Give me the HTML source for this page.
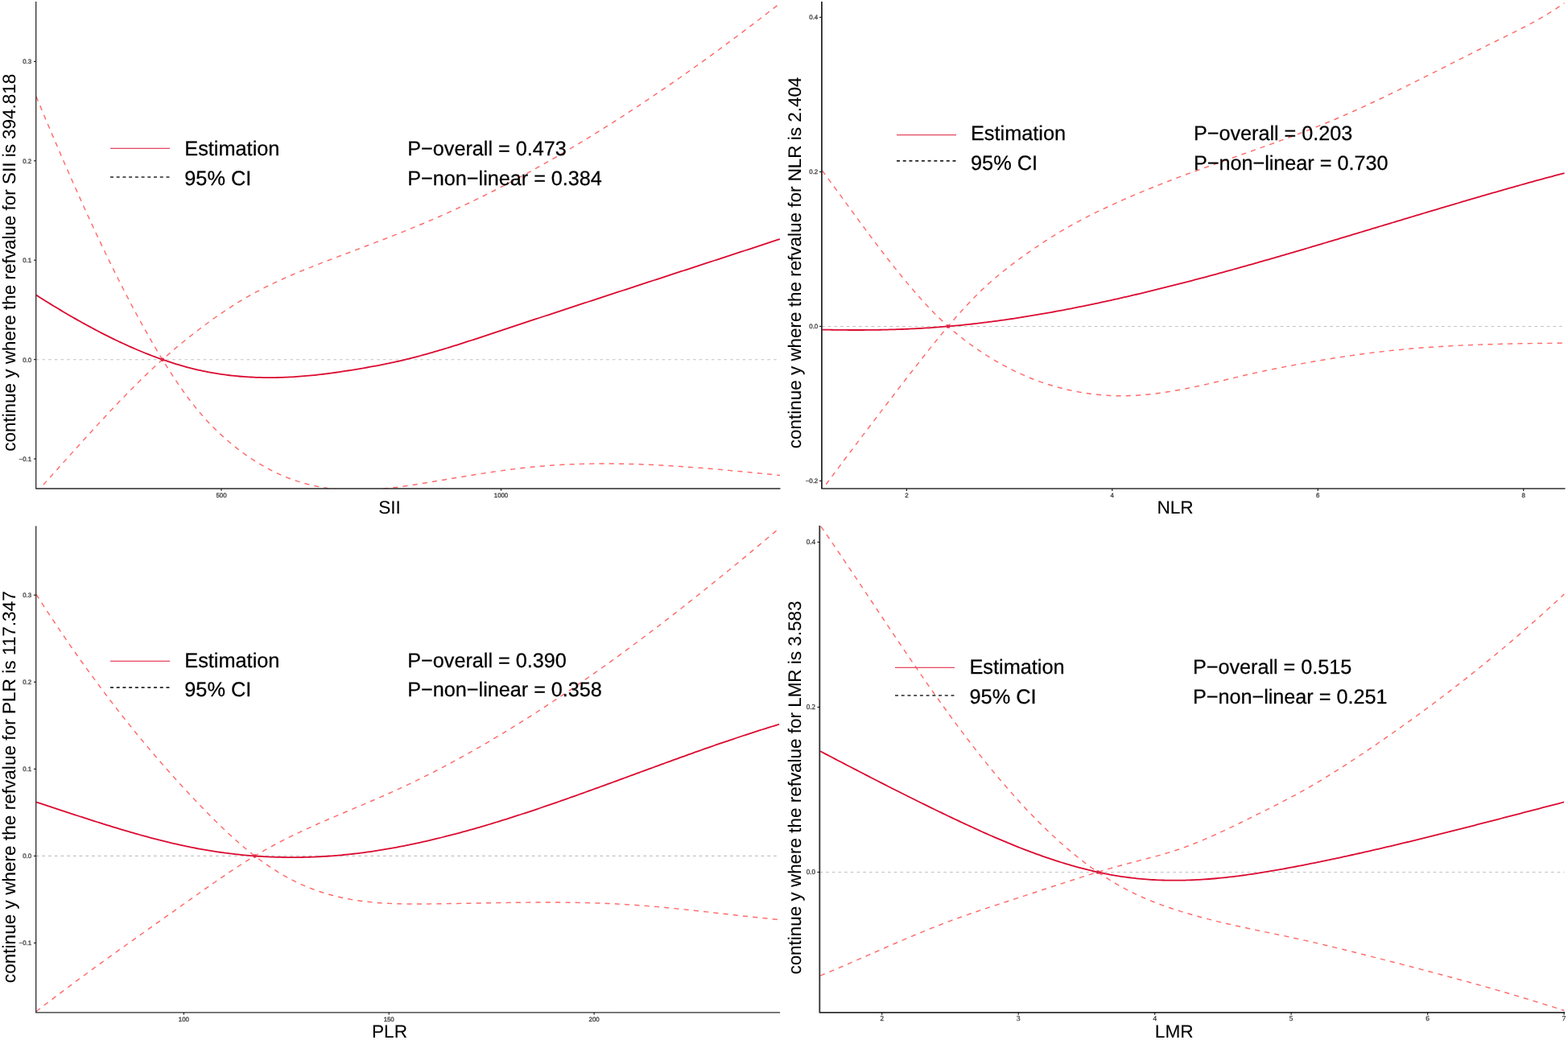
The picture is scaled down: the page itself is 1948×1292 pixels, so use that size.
<!DOCTYPE html>
<html lang="en"><head><meta charset="utf-8"><title>Restricted cubic spline plots: SII, NLR, PLR, LMR</title>
<style>
html,body{margin:0;padding:0;background:#fff;}
body{width:1948px;height:1292px;overflow:hidden;}
svg{display:block;}
text{font-family:'Liberation Sans', Arial, Helvetica, sans-serif;}
.big{font-size:25.3px;fill:#000;stroke:#000;stroke-width:0.25px;}
.pt{font-size:25.2px;}
.tks{font-size:9px;fill:#3c3c3c;}
.ttl{font-size:22.6px;fill:#000;stroke:#000;stroke-width:0.08px;}
.tk{font-size:7.85px;fill:#484848;stroke:#484848;stroke-width:0.35px;}
text{text-rendering:geometricPrecision;}
.ci{fill:none;stroke:#FF6B6B;stroke-width:1.45;stroke-dasharray:6.15 6.15;}
.est{fill:none;stroke:#DB0A30;stroke-width:1.8;stroke-linejoin:round;}
.zero{fill:none;stroke:#C2C2C2;stroke-width:1.1;stroke-dasharray:3.7 4.0;}
</style></head><body>
<svg xmlns="http://www.w3.org/2000/svg" width="1948" height="1292" viewBox="0 0 1948 1292">
<rect x="0" y="0" width="1948" height="1292" fill="#ffffff"/>
<g id="panel-SII">
<clipPath id="clip0"><rect x="44.7" y="-2" width="924.3" height="609"/></clipPath>
<line class="zero" x1="44.7" y1="446.7" x2="969" y2="446.7"/>
<g clip-path="url(#clip0)">
<path class="ci" d="M45 120.01 L48 127.21 L51 134.38 L54 141.53 L57 148.66 L60 155.76 L63 162.83 L66 169.88 L69 176.9 L72 183.9 L75 190.86 L78 197.79 L81 204.7 L84 211.57 L87 218.41 L90 225.21 L93 231.98 L96 238.72 L99 245.42 L102 252.08 L105 258.7 L108 265.29 L111 271.83 L114 278.34 L117 284.8 L120 291.22 L123 297.6 L126 303.93 L129 310.22 L132 316.46 L135 322.65 L138 328.8 L141 334.9 L144 340.95 L147 346.95 L150 352.9 L153 358.79 L156 364.64 L159 370.42 L162 376.16 L165 381.84 L168 387.46 L171 393.02 L174 398.53 L177 403.98 L180 409.36 L183 414.69 L186 419.95 L189 425.15 L192 430.29 L195 435.36 L198 440.37 L201 445.31 L204 450.19 L207 454.99 L210 459.73 L213 464.38 L216 468.97 L219 473.47 L222 477.89 L225 482.23 L228 486.47 L231 490.63 L234 494.7 L237 498.67 L240 502.55 L243 506.32 L246 510 L249 513.56 L252 517.02 L255 520.38 L258 523.64 L261 526.8 L264 529.87 L267 532.86 L270 535.77 L273 538.6 L276 541.37 L279 544.07 L282 546.71 L285 549.28 L288 551.79 L291 554.24 L294 556.62 L297 558.94 L300 561.21 L303 563.41 L306 565.55 L309 567.63 L312 569.65 L315 571.62 L318 573.52 L321 575.37 L324 577.17 L327 578.9 L330 580.58 L333 582.21 L336 583.78 L339 585.3 L342 586.76 L345 588.18 L348 589.54 L351 590.84 L354 592.1 L357 593.31 L360 594.46 L363 595.57 L366 596.63 L369 597.64 L372 598.6 L375 599.51 L378 600.38 L381 601.2 L384 601.98 L387 602.71 L390 603.39 L393 604.04 L396 604.64 L399 605.19 L402 605.71 L405 606.18 L408 606.61 L411 607 L414 607.35 L417 607.67 L420 607.94 L423 608.18 L426 608.38 L429 608.54 L432 608.67 L435 608.77 L438 608.83 L441 608.86 L444 608.86 L447 608.83 L450 608.77 L453 608.68 L456 608.57 L459 608.43 L462 608.26 L465 608.07 L468 607.86 L471 607.62 L474 607.37 L477 607.09 L480 606.79 L483 606.47 L486 606.13 L489 605.78 L492 605.41 L495 605.03 L498 604.63 L501 604.21 L504 603.79 L507 603.35 L510 602.9 L513 602.45 L516 601.98 L519 601.51 L522 601.03 L525 600.54 L528 600.05 L531 599.55 L534 599.05 L537 598.55 L540 598.04 L543 597.54 L546 597.03 L549 596.53 L552 596.02 L555 595.51 L558 595.01 L561 594.5 L564 594 L567 593.49 L570 592.99 L573 592.49 L576 591.99 L579 591.5 L582 591.01 L585 590.52 L588 590.03 L591 589.55 L594 589.08 L597 588.6 L600 588.14 L603 587.67 L606 587.21 L609 586.76 L612 586.32 L615 585.88 L618 585.45 L621 585.02 L624 584.6 L627 584.19 L630 583.79 L633 583.39 L636 583.01 L639 582.63 L642 582.26 L645 581.91 L648 581.56 L651 581.22 L654 580.89 L657 580.57 L660 580.27 L663 579.97 L666 579.69 L669 579.42 L672 579.16 L675 578.91 L678 578.67 L681 578.44 L684 578.23 L687 578.02 L690 577.83 L693 577.65 L696 577.47 L699 577.31 L702 577.16 L705 577.01 L708 576.88 L711 576.76 L714 576.64 L717 576.54 L720 576.44 L723 576.36 L726 576.28 L729 576.22 L732 576.16 L735 576.11 L738 576.07 L741 576.04 L744 576.02 L747 576 L750 576 L753 576 L756 576.01 L759 576.03 L762 576.06 L765 576.09 L768 576.14 L771 576.19 L774 576.24 L777 576.31 L780 576.38 L783 576.46 L786 576.54 L789 576.64 L792 576.74 L795 576.84 L798 576.96 L801 577.08 L804 577.2 L807 577.33 L810 577.47 L813 577.61 L816 577.76 L819 577.92 L822 578.08 L825 578.25 L828 578.42 L831 578.6 L834 578.78 L837 578.97 L840 579.16 L843 579.35 L846 579.56 L849 579.76 L852 579.97 L855 580.19 L858 580.41 L861 580.63 L864 580.86 L867 581.09 L870 581.33 L873 581.57 L876 581.81 L879 582.05 L882 582.3 L885 582.56 L888 582.81 L891 583.07 L894 583.33 L897 583.6 L900 583.86 L903 584.13 L906 584.4 L909 584.68 L912 584.95 L915 585.23 L918 585.51 L921 585.8 L924 586.08 L927 586.36 L930 586.65 L933 586.94 L936 587.23 L939 587.52 L942 587.81 L945 588.11 L948 588.4 L951 588.69 L954 588.99 L957 589.28 L960 589.58 L963 589.88 L966 590.17 L969 590.47"/>
<path class="ci" d="M53.9 602.2 L56.9 598.87 L59.9 595.53 L62.9 592.2 L65.9 588.86 L68.9 585.52 L71.9 582.17 L74.9 578.83 L77.9 575.49 L80.9 572.14 L83.9 568.8 L86.9 565.47 L89.9 562.13 L92.9 558.8 L95.9 555.48 L98.9 552.15 L101.91 548.84 L104.91 545.53 L107.91 542.23 L110.91 538.94 L113.91 535.66 L116.91 532.38 L119.91 529.12 L122.91 525.87 L125.91 522.63 L128.91 519.4 L131.91 516.19 L134.91 512.98 L137.91 509.8 L140.91 506.63 L143.91 503.47 L146.91 500.34 L149.91 497.22 L152.91 494.11 L155.91 491.03 L158.91 487.97 L161.91 484.92 L164.91 481.9 L167.91 478.9 L170.91 475.92 L173.91 472.97 L176.91 470.04 L179.91 467.13 L182.91 464.25 L185.91 461.4 L188.91 458.57 L191.92 455.77 L194.92 453 L197.92 450.25 L200.92 447.54 L203.92 444.86 L206.92 442.2 L209.92 439.58 L212.92 436.99 L215.92 434.42 L218.92 431.88 L221.92 429.38 L224.92 426.89 L227.92 424.44 L230.92 422.01 L233.92 419.61 L236.92 417.23 L239.92 414.88 L242.92 412.55 L245.92 410.25 L248.92 407.97 L251.92 405.71 L254.92 403.48 L257.92 401.27 L260.92 399.08 L263.92 396.92 L266.92 394.78 L269.92 392.67 L272.92 390.59 L275.92 388.54 L278.92 386.51 L281.92 384.51 L284.93 382.54 L287.93 380.61 L290.93 378.7 L293.93 376.82 L296.93 374.98 L299.93 373.16 L302.93 371.39 L305.93 369.64 L308.93 367.92 L311.93 366.24 L314.93 364.58 L317.93 362.96 L320.93 361.36 L323.93 359.79 L326.93 358.24 L329.93 356.72 L332.93 355.23 L335.93 353.76 L338.93 352.31 L341.93 350.89 L344.93 349.48 L347.93 348.1 L350.93 346.74 L353.93 345.39 L356.93 344.06 L359.93 342.76 L362.93 341.46 L365.93 340.19 L368.93 338.92 L371.93 337.67 L374.94 336.44 L377.94 335.21 L380.94 334 L383.94 332.8 L386.94 331.61 L389.94 330.43 L392.94 329.25 L395.94 328.08 L398.94 326.92 L401.94 325.76 L404.94 324.61 L407.94 323.46 L410.94 322.32 L413.94 321.18 L416.94 320.04 L419.94 318.9 L422.94 317.76 L425.94 316.62 L428.94 315.49 L431.94 314.35 L434.94 313.22 L437.94 312.09 L440.94 310.95 L443.94 309.82 L446.94 308.68 L449.94 307.55 L452.94 306.41 L455.94 305.27 L458.94 304.13 L461.94 302.98 L464.94 301.84 L467.95 300.69 L470.95 299.54 L473.95 298.38 L476.95 297.22 L479.95 296.06 L482.95 294.9 L485.95 293.73 L488.95 292.55 L491.95 291.37 L494.95 290.19 L497.95 289 L500.95 287.8 L503.95 286.6 L506.95 285.39 L509.95 284.17 L512.95 282.95 L515.95 281.72 L518.95 280.49 L521.95 279.24 L524.95 277.99 L527.95 276.73 L530.95 275.46 L533.95 274.18 L536.95 272.9 L539.95 271.6 L542.95 270.3 L545.95 268.98 L548.95 267.66 L551.95 266.32 L554.95 264.98 L557.96 263.63 L560.96 262.27 L563.96 260.9 L566.96 259.52 L569.96 258.13 L572.96 256.74 L575.96 255.33 L578.96 253.92 L581.96 252.49 L584.96 251.06 L587.96 249.62 L590.96 248.17 L593.96 246.71 L596.96 245.24 L599.96 243.77 L602.96 242.28 L605.96 240.79 L608.96 239.28 L611.96 237.77 L614.96 236.25 L617.96 234.72 L620.96 233.19 L623.96 231.64 L626.96 230.08 L629.96 228.52 L632.96 226.95 L635.96 225.37 L638.96 223.78 L641.96 222.19 L644.96 220.58 L647.96 218.97 L650.97 217.35 L653.97 215.72 L656.97 214.08 L659.97 212.43 L662.97 210.78 L665.97 209.11 L668.97 207.44 L671.97 205.76 L674.97 204.08 L677.97 202.38 L680.97 200.68 L683.97 198.97 L686.97 197.25 L689.97 195.52 L692.97 193.79 L695.97 192.04 L698.97 190.29 L701.97 188.54 L704.97 186.77 L707.97 185 L710.97 183.21 L713.97 181.43 L716.97 179.63 L719.97 177.82 L722.97 176.01 L725.97 174.19 L728.97 172.36 L731.97 170.53 L734.97 168.69 L737.97 166.84 L740.98 164.98 L743.98 163.11 L746.98 161.24 L749.98 159.36 L752.98 157.48 L755.98 155.58 L758.98 153.68 L761.98 151.77 L764.98 149.85 L767.98 147.93 L770.98 146 L773.98 144.06 L776.98 142.12 L779.98 140.17 L782.98 138.21 L785.98 136.24 L788.98 134.27 L791.98 132.29 L794.98 130.3 L797.98 128.31 L800.98 126.31 L803.98 124.3 L806.98 122.29 L809.98 120.27 L812.98 118.24 L815.98 116.2 L818.98 114.16 L821.98 112.11 L824.98 110.06 L827.98 108 L830.98 105.93 L833.99 103.86 L836.99 101.77 L839.99 99.69 L842.99 97.59 L845.99 95.49 L848.99 93.39 L851.99 91.27 L854.99 89.15 L857.99 87.03 L860.99 84.89 L863.99 82.76 L866.99 80.61 L869.99 78.46 L872.99 76.3 L875.99 74.14 L878.99 71.97 L881.99 69.79 L884.99 67.61 L887.99 65.42 L890.99 63.23 L893.99 61.03 L896.99 58.82 L899.99 56.61 L902.99 54.39 L905.99 52.17 L908.99 49.94 L911.99 47.7 L914.99 45.46 L917.99 43.21 L920.99 40.96 L924 38.7 L927 36.44 L930 34.17 L933 31.89 L936 29.61 L939 27.32 L942 25.03 L945 22.73 L948 20.43 L951 18.12 L954 15.8 L957 13.48 L960 11.16 L963 8.83 L966 6.49 L969 4.15"/>
<path class="est" d="M45 366.63 L48 368.53 L51 370.42 L54 372.29 L57 374.16 L60 376.02 L63 377.86 L66 379.7 L69 381.52 L72 383.33 L75 385.13 L78 386.91 L81 388.68 L84 390.44 L87 392.19 L90 393.93 L93 395.65 L96 397.35 L99 399.04 L102 400.72 L105 402.38 L108 404.03 L111 405.66 L114 407.28 L117 408.88 L120 410.47 L123 412.04 L126 413.59 L129 415.13 L132 416.65 L135 418.15 L138 419.64 L141 421.11 L144 422.56 L147 423.99 L150 425.4 L153 426.8 L156 428.17 L159 429.53 L162 430.87 L165 432.19 L168 433.49 L171 434.77 L174 436.03 L177 437.26 L180 438.48 L183 439.68 L186 440.85 L189 442.01 L192 443.14 L195 444.25 L198 445.34 L201 446.4 L204 447.44 L207 448.46 L210 449.46 L213 450.43 L216 451.38 L219 452.31 L222 453.21 L225 454.08 L228 454.94 L231 455.76 L234 456.57 L237 457.34 L240 458.09 L243 458.82 L246 459.52 L249 460.19 L252 460.83 L255 461.45 L258 462.05 L261 462.61 L264 463.15 L267 463.67 L270 464.16 L273 464.62 L276 465.07 L279 465.48 L282 465.87 L285 466.24 L288 466.59 L291 466.91 L294 467.2 L297 467.48 L300 467.73 L303 467.96 L306 468.17 L309 468.36 L312 468.52 L315 468.66 L318 468.79 L321 468.89 L324 468.97 L327 469.03 L330 469.07 L333 469.09 L336 469.09 L339 469.08 L342 469.04 L345 468.98 L348 468.91 L351 468.82 L354 468.71 L357 468.58 L360 468.44 L363 468.28 L366 468.1 L369 467.9 L372 467.69 L375 467.47 L378 467.22 L381 466.96 L384 466.69 L387 466.4 L390 466.1 L393 465.78 L396 465.45 L399 465.1 L402 464.74 L405 464.37 L408 463.99 L411 463.59 L414 463.18 L417 462.76 L420 462.33 L423 461.89 L426 461.43 L429 460.97 L432 460.5 L435 460.03 L438 459.54 L441 459.05 L444 458.55 L447 458.05 L450 457.53 L453 457.02 L456 456.5 L459 455.97 L462 455.43 L465 454.88 L468 454.33 L471 453.76 L474 453.18 L477 452.59 L480 451.99 L483 451.37 L486 450.74 L489 450.09 L492 449.43 L495 448.75 L498 448.06 L501 447.35 L504 446.62 L507 445.89 L510 445.14 L513 444.37 L516 443.6 L519 442.81 L522 442 L525 441.19 L528 440.37 L531 439.53 L534 438.68 L537 437.83 L540 436.96 L543 436.08 L546 435.2 L549 434.3 L552 433.4 L555 432.49 L558 431.57 L561 430.64 L564 429.71 L567 428.77 L570 427.82 L573 426.87 L576 425.91 L579 424.95 L582 423.98 L585 423.01 L588 422.03 L591 421.05 L594 420.07 L597 419.08 L600 418.09 L603 417.1 L606 416.11 L609 415.11 L612 414.12 L615 413.12 L618 412.12 L621 411.13 L624 410.13 L627 409.14 L630 408.14 L633 407.14 L636 406.15 L639 405.15 L642 404.16 L645 403.17 L648 402.17 L651 401.18 L654 400.19 L657 399.2 L660 398.21 L663 397.21 L666 396.22 L669 395.23 L672 394.24 L675 393.25 L678 392.26 L681 391.28 L684 390.29 L687 389.3 L690 388.31 L693 387.32 L696 386.34 L699 385.35 L702 384.36 L705 383.38 L708 382.39 L711 381.4 L714 380.42 L717 379.43 L720 378.45 L723 377.46 L726 376.48 L729 375.49 L732 374.51 L735 373.53 L738 372.54 L741 371.56 L744 370.57 L747 369.59 L750 368.61 L753 367.63 L756 366.64 L759 365.66 L762 364.68 L765 363.7 L768 362.72 L771 361.73 L774 360.75 L777 359.77 L780 358.79 L783 357.81 L786 356.83 L789 355.85 L792 354.87 L795 353.89 L798 352.91 L801 351.93 L804 350.95 L807 349.97 L810 348.99 L813 348 L816 347.02 L819 346.05 L822 345.07 L825 344.09 L828 343.11 L831 342.13 L834 341.15 L837 340.17 L840 339.19 L843 338.21 L846 337.23 L849 336.25 L852 335.27 L855 334.29 L858 333.31 L861 332.33 L864 331.35 L867 330.37 L870 329.39 L873 328.41 L876 327.43 L879 326.45 L882 325.47 L885 324.49 L888 323.51 L891 322.53 L894 321.55 L897 320.57 L900 319.58 L903 318.6 L906 317.62 L909 316.64 L912 315.66 L915 314.68 L918 313.7 L921 312.72 L924 311.73 L927 310.75 L930 309.77 L933 308.79 L936 307.8 L939 306.82 L942 305.84 L945 304.85 L948 303.87 L951 302.89 L954 301.9 L957 300.92 L960 299.93 L963 298.95 L966 297.97 L969 296.98"/>
</g>
<circle cx="201.85" cy="446.7" r="2.25" fill="#DD2448"/>
<line x1="44.7" y1="607" x2="969" y2="607" stroke="#2a2a2a" stroke-width="1.3" stroke-linecap="round"/>
<line x1="44.7" y1="2" x2="44.7" y2="607" stroke="#2a2a2a" stroke-width="1.3" stroke-linecap="butt"/>
<line x1="42.05" y1="76.4" x2="44.7" y2="76.4" stroke="#1a1a1a" stroke-width="1.2"/>
<text class="tk" x="39.1" y="79.25" text-anchor="end">0.3</text>
<line x1="42.05" y1="199.8" x2="44.7" y2="199.8" stroke="#1a1a1a" stroke-width="1.2"/>
<text class="tk" x="39.1" y="202.65" text-anchor="end">0.2</text>
<line x1="42.05" y1="323.2" x2="44.7" y2="323.2" stroke="#1a1a1a" stroke-width="1.2"/>
<text class="tk" x="39.1" y="326.05" text-anchor="end">0.1</text>
<line x1="42.05" y1="446.65" x2="44.7" y2="446.65" stroke="#1a1a1a" stroke-width="1.2"/>
<text class="tk" x="39.1" y="449.5" text-anchor="end">0.0</text>
<line x1="42.05" y1="570.05" x2="44.7" y2="570.05" stroke="#1a1a1a" stroke-width="1.2"/>
<text class="tk" x="39.1" y="572.9" text-anchor="end">−0.1</text>
<line x1="275" y1="607" x2="275" y2="609.65" stroke="#1a1a1a" stroke-width="1.2"/>
<text class="tk" x="275" y="617.6" text-anchor="middle">500</text>
<line x1="622.5" y1="607" x2="622.5" y2="609.65" stroke="#1a1a1a" stroke-width="1.2"/>
<text class="tk" x="622.5" y="617.6" text-anchor="middle">1000</text>
<line x1="137" y1="184.4" x2="211" y2="184.4" stroke="#E4465F" stroke-width="1.2"/>
<line x1="137" y1="220" x2="211" y2="220" stroke="#262626" stroke-width="1.7" stroke-dasharray="3.95 3.77"/>
<text class="big" x="229.3" y="192.5">Estimation</text>
<text class="big" x="229.3" y="230">95% CI</text>
<text class="big pt" x="506.3" y="192.5">P−overall = 0.473</text>
<text class="big pt" x="506.3" y="230">P−non−linear = 0.384</text>
<text class="ttl ylab" style="font-size:22.45px" id="ylab0" transform="translate(18.8 326.3) rotate(-90)" text-anchor="middle">continue y where the refvalue for SII is 394.818</text>
<text class="ttl" id="xlab0" x="484" y="638.3" text-anchor="middle">SII</text>
</g>
<g id="panel-NLR">
<clipPath id="clip1"><rect x="1020.9" y="-2" width="923.1" height="609.05"/></clipPath>
<line class="zero" x1="1020.9" y1="405.45" x2="1944" y2="405.45"/>
<g clip-path="url(#clip1)">
<path class="ci" d="M1021.5 211.96 L1024.5 216.02 L1027.51 220.09 L1030.51 224.17 L1033.51 228.26 L1036.52 232.35 L1039.52 236.45 L1042.52 240.56 L1045.53 244.67 L1048.53 248.77 L1051.53 252.88 L1054.54 256.99 L1057.54 261.09 L1060.54 265.19 L1063.55 269.28 L1066.55 273.37 L1069.55 277.44 L1072.56 281.51 L1075.56 285.56 L1078.56 289.6 L1081.57 293.62 L1084.57 297.62 L1087.57 301.61 L1090.57 305.58 L1093.58 309.52 L1096.58 313.45 L1099.58 317.35 L1102.59 321.22 L1105.59 325.07 L1108.59 328.88 L1111.6 332.67 L1114.6 336.42 L1117.6 340.15 L1120.61 343.83 L1123.61 347.48 L1126.61 351.1 L1129.62 354.67 L1132.62 358.2 L1135.62 361.69 L1138.63 365.14 L1141.63 368.54 L1144.63 371.89 L1147.64 375.2 L1150.64 378.45 L1153.64 381.66 L1156.65 384.81 L1159.65 387.91 L1162.65 390.95 L1165.66 393.93 L1168.66 396.86 L1171.66 399.73 L1174.67 402.53 L1177.67 405.27 L1180.67 407.94 L1183.68 410.56 L1186.68 413.11 L1189.68 415.6 L1192.69 418.03 L1195.69 420.41 L1198.69 422.73 L1201.7 425 L1204.7 427.22 L1207.7 429.39 L1210.71 431.52 L1213.71 433.6 L1216.71 435.63 L1219.71 437.63 L1222.72 439.58 L1225.72 441.5 L1228.72 443.38 L1231.73 445.22 L1234.73 447.02 L1237.73 448.79 L1240.74 450.51 L1243.74 452.21 L1246.74 453.86 L1249.75 455.47 L1252.75 457.05 L1255.75 458.59 L1258.76 460.09 L1261.76 461.55 L1264.76 462.98 L1267.77 464.36 L1270.77 465.71 L1273.77 467.02 L1276.78 468.29 L1279.78 469.52 L1282.78 470.71 L1285.79 471.87 L1288.79 472.99 L1291.79 474.07 L1294.8 475.12 L1297.8 476.13 L1300.8 477.11 L1303.81 478.06 L1306.81 478.97 L1309.81 479.84 L1312.82 480.69 L1315.82 481.5 L1318.82 482.28 L1321.83 483.03 L1324.83 483.75 L1327.83 484.44 L1330.84 485.09 L1333.84 485.72 L1336.84 486.32 L1339.85 486.89 L1342.85 487.42 L1345.85 487.93 L1348.86 488.4 L1351.86 488.84 L1354.86 489.25 L1357.86 489.63 L1360.87 489.98 L1363.87 490.3 L1366.87 490.59 L1369.88 490.84 L1372.88 491.06 L1375.88 491.26 L1378.89 491.42 L1381.89 491.54 L1384.89 491.64 L1387.9 491.7 L1390.9 491.74 L1393.9 491.74 L1396.91 491.71 L1399.91 491.66 L1402.91 491.57 L1405.92 491.46 L1408.92 491.32 L1411.92 491.16 L1414.93 490.97 L1417.93 490.75 L1420.93 490.51 L1423.94 490.24 L1426.94 489.95 L1429.94 489.63 L1432.95 489.3 L1435.95 488.94 L1438.95 488.56 L1441.96 488.15 L1444.96 487.73 L1447.96 487.29 L1450.97 486.83 L1453.97 486.35 L1456.97 485.85 L1459.98 485.33 L1462.98 484.8 L1465.98 484.25 L1468.99 483.68 L1471.99 483.1 L1474.99 482.51 L1478 481.9 L1481 481.28 L1484 480.65 L1487 480.01 L1490.01 479.36 L1493.01 478.7 L1496.01 478.03 L1499.02 477.35 L1502.02 476.66 L1505.02 475.97 L1508.03 475.28 L1511.03 474.57 L1514.03 473.87 L1517.04 473.16 L1520.04 472.45 L1523.04 471.74 L1526.05 471.02 L1529.05 470.31 L1532.05 469.6 L1535.06 468.88 L1538.06 468.18 L1541.06 467.47 L1544.07 466.77 L1547.07 466.07 L1550.07 465.38 L1553.08 464.69 L1556.08 464.01 L1559.08 463.34 L1562.09 462.67 L1565.09 462.02 L1568.09 461.37 L1571.1 460.73 L1574.1 460.1 L1577.1 459.48 L1580.11 458.87 L1583.11 458.26 L1586.11 457.66 L1589.12 457.06 L1592.12 456.47 L1595.12 455.89 L1598.13 455.31 L1601.13 454.74 L1604.13 454.18 L1607.14 453.61 L1610.14 453.06 L1613.14 452.51 L1616.14 451.96 L1619.15 451.41 L1622.15 450.87 L1625.15 450.34 L1628.16 449.81 L1631.16 449.28 L1634.16 448.76 L1637.17 448.25 L1640.17 447.74 L1643.17 447.23 L1646.18 446.73 L1649.18 446.24 L1652.18 445.75 L1655.19 445.27 L1658.19 444.79 L1661.19 444.32 L1664.2 443.85 L1667.2 443.39 L1670.2 442.94 L1673.21 442.49 L1676.21 442.05 L1679.21 441.62 L1682.22 441.19 L1685.22 440.77 L1688.22 440.35 L1691.23 439.94 L1694.23 439.54 L1697.23 439.15 L1700.24 438.76 L1703.24 438.38 L1706.24 438.01 L1709.25 437.65 L1712.25 437.29 L1715.25 436.94 L1718.26 436.6 L1721.26 436.27 L1724.26 435.94 L1727.27 435.62 L1730.27 435.31 L1733.27 435 L1736.28 434.71 L1739.28 434.42 L1742.28 434.13 L1745.29 433.85 L1748.29 433.58 L1751.29 433.32 L1754.29 433.06 L1757.3 432.81 L1760.3 432.57 L1763.3 432.33 L1766.31 432.09 L1769.31 431.87 L1772.31 431.65 L1775.32 431.43 L1778.32 431.23 L1781.32 431.02 L1784.33 430.83 L1787.33 430.63 L1790.33 430.45 L1793.34 430.27 L1796.34 430.09 L1799.34 429.92 L1802.35 429.76 L1805.35 429.6 L1808.35 429.44 L1811.36 429.29 L1814.36 429.15 L1817.36 429.01 L1820.37 428.87 L1823.37 428.74 L1826.37 428.61 L1829.38 428.49 L1832.38 428.37 L1835.38 428.26 L1838.39 428.15 L1841.39 428.04 L1844.39 427.94 L1847.4 427.84 L1850.4 427.75 L1853.4 427.66 L1856.41 427.57 L1859.41 427.49 L1862.41 427.41 L1865.42 427.34 L1868.42 427.26 L1871.42 427.19 L1874.43 427.13 L1877.43 427.06 L1880.43 427 L1883.43 426.94 L1886.44 426.89 L1889.44 426.84 L1892.44 426.79 L1895.45 426.74 L1898.45 426.7 L1901.45 426.65 L1904.46 426.61 L1907.46 426.57 L1910.46 426.54 L1913.47 426.51 L1916.47 426.47 L1919.47 426.44 L1922.48 426.42 L1925.48 426.39 L1928.48 426.36 L1931.49 426.34 L1934.49 426.32 L1937.49 426.3 L1940.5 426.28 L1943.5 426.26"/>
<path class="ci" d="M1026.2 601.77 L1029.21 597.72 L1032.22 593.68 L1035.22 589.65 L1038.23 585.62 L1041.24 581.6 L1044.25 577.58 L1047.25 573.57 L1050.26 569.56 L1053.27 565.56 L1056.28 561.56 L1059.28 557.57 L1062.29 553.59 L1065.3 549.61 L1068.31 545.63 L1071.31 541.66 L1074.32 537.7 L1077.33 533.74 L1080.34 529.78 L1083.34 525.83 L1086.35 521.89 L1089.36 517.95 L1092.37 514.01 L1095.37 510.08 L1098.38 506.15 L1101.39 502.23 L1104.4 498.31 L1107.4 494.39 L1110.41 490.48 L1113.42 486.58 L1116.43 482.67 L1119.43 478.77 L1122.44 474.88 L1125.45 470.99 L1128.46 467.1 L1131.46 463.22 L1134.47 459.35 L1137.48 455.49 L1140.49 451.64 L1143.49 447.8 L1146.5 443.98 L1149.51 440.17 L1152.52 436.39 L1155.52 432.62 L1158.53 428.88 L1161.54 425.16 L1164.55 421.46 L1167.55 417.8 L1170.56 414.16 L1173.57 410.55 L1176.58 406.98 L1179.58 403.44 L1182.59 399.93 L1185.6 396.47 L1188.61 393.04 L1191.61 389.65 L1194.62 386.31 L1197.63 383.02 L1200.64 379.77 L1203.64 376.56 L1206.65 373.41 L1209.66 370.31 L1212.67 367.27 L1215.68 364.28 L1218.68 361.34 L1221.69 358.47 L1224.7 355.65 L1227.71 352.9 L1230.71 350.21 L1233.72 347.57 L1236.73 344.98 L1239.74 342.45 L1242.74 339.96 L1245.75 337.51 L1248.76 335.11 L1251.77 332.75 L1254.77 330.42 L1257.78 328.13 L1260.79 325.86 L1263.8 323.63 L1266.8 321.42 L1269.81 319.23 L1272.82 317.06 L1275.83 314.92 L1278.83 312.8 L1281.84 310.71 L1284.85 308.63 L1287.86 306.59 L1290.86 304.56 L1293.87 302.56 L1296.88 300.58 L1299.89 298.63 L1302.89 296.71 L1305.9 294.8 L1308.91 292.93 L1311.92 291.07 L1314.92 289.25 L1317.93 287.44 L1320.94 285.67 L1323.95 283.92 L1326.95 282.19 L1329.96 280.49 L1332.97 278.81 L1335.98 277.16 L1338.98 275.53 L1341.99 273.92 L1345 272.34 L1348.01 270.77 L1351.01 269.22 L1354.02 267.7 L1357.03 266.19 L1360.04 264.69 L1363.04 263.22 L1366.05 261.76 L1369.06 260.31 L1372.07 258.88 L1375.07 257.47 L1378.08 256.06 L1381.09 254.67 L1384.1 253.3 L1387.1 251.93 L1390.11 250.58 L1393.12 249.23 L1396.13 247.9 L1399.14 246.58 L1402.14 245.28 L1405.15 243.98 L1408.16 242.69 L1411.17 241.41 L1414.17 240.15 L1417.18 238.89 L1420.19 237.64 L1423.2 236.41 L1426.2 235.18 L1429.21 233.96 L1432.22 232.75 L1435.23 231.54 L1438.23 230.35 L1441.24 229.16 L1444.25 227.98 L1447.26 226.81 L1450.26 225.65 L1453.27 224.49 L1456.28 223.34 L1459.29 222.19 L1462.29 221.05 L1465.3 219.92 L1468.31 218.79 L1471.32 217.67 L1474.32 216.55 L1477.33 215.44 L1480.34 214.33 L1483.35 213.23 L1486.35 212.13 L1489.36 211.04 L1492.37 209.95 L1495.38 208.86 L1498.38 207.78 L1501.39 206.7 L1504.4 205.62 L1507.41 204.54 L1510.41 203.47 L1513.42 202.4 L1516.43 201.33 L1519.44 200.26 L1522.44 199.19 L1525.45 198.12 L1528.46 197.06 L1531.47 195.99 L1534.47 194.93 L1537.48 193.86 L1540.49 192.8 L1543.5 191.73 L1546.5 190.67 L1549.51 189.6 L1552.52 188.53 L1555.53 187.46 L1558.53 186.39 L1561.54 185.32 L1564.55 184.24 L1567.56 183.17 L1570.56 182.08 L1573.57 181 L1576.58 179.91 L1579.59 178.82 L1582.6 177.73 L1585.6 176.63 L1588.61 175.53 L1591.62 174.43 L1594.63 173.32 L1597.63 172.2 L1600.64 171.08 L1603.65 169.95 L1606.66 168.82 L1609.66 167.68 L1612.67 166.54 L1615.68 165.39 L1618.69 164.23 L1621.69 163.07 L1624.7 161.9 L1627.71 160.72 L1630.72 159.54 L1633.72 158.35 L1636.73 157.14 L1639.74 155.94 L1642.75 154.72 L1645.75 153.49 L1648.76 152.26 L1651.77 151.01 L1654.78 149.76 L1657.78 148.49 L1660.79 147.22 L1663.8 145.93 L1666.81 144.64 L1669.81 143.33 L1672.82 142.02 L1675.83 140.7 L1678.84 139.36 L1681.84 138.02 L1684.85 136.67 L1687.86 135.31 L1690.87 133.95 L1693.87 132.57 L1696.88 131.19 L1699.89 129.8 L1702.9 128.4 L1705.9 126.99 L1708.91 125.58 L1711.92 124.16 L1714.93 122.73 L1717.93 121.3 L1720.94 119.86 L1723.95 118.42 L1726.96 116.97 L1729.96 115.51 L1732.97 114.05 L1735.98 112.58 L1738.99 111.11 L1741.99 109.64 L1745 108.16 L1748.01 106.67 L1751.02 105.18 L1754.02 103.69 L1757.03 102.19 L1760.04 100.7 L1763.05 99.19 L1766.06 97.69 L1769.06 96.18 L1772.07 94.67 L1775.08 93.16 L1778.09 91.64 L1781.09 90.12 L1784.1 88.61 L1787.11 87.09 L1790.12 85.56 L1793.12 84.04 L1796.13 82.52 L1799.14 81 L1802.15 79.47 L1805.15 77.95 L1808.16 76.42 L1811.17 74.9 L1814.18 73.38 L1817.18 71.86 L1820.19 70.34 L1823.2 68.82 L1826.21 67.3 L1829.21 65.78 L1832.22 64.26 L1835.23 62.75 L1838.24 61.24 L1841.24 59.73 L1844.25 58.23 L1847.26 56.72 L1850.27 55.22 L1853.27 53.73 L1856.28 52.23 L1859.29 50.75 L1862.3 49.26 L1865.3 47.78 L1868.31 46.3 L1871.32 44.82 L1874.33 43.33 L1877.33 41.84 L1880.34 40.35 L1883.35 38.84 L1886.36 37.33 L1889.36 35.8 L1892.37 34.26 L1895.38 32.69 L1898.39 31.12 L1901.39 29.52 L1904.4 27.89 L1907.41 26.24 L1910.42 24.57 L1913.42 22.86 L1916.43 21.13 L1919.44 19.36 L1922.45 17.56 L1925.45 15.71 L1928.46 13.83 L1931.47 11.91 L1934.48 9.95 L1937.48 7.94 L1940.49 5.88 L1943.5 3.78"/>
<path class="est" d="M1021.5 409.55 L1024.5 409.61 L1027.51 409.66 L1030.51 409.72 L1033.51 409.77 L1036.52 409.81 L1039.52 409.85 L1042.52 409.89 L1045.53 409.92 L1048.53 409.95 L1051.53 409.97 L1054.54 409.99 L1057.54 410 L1060.54 410.01 L1063.55 410.01 L1066.55 410.01 L1069.55 410 L1072.56 409.99 L1075.56 409.97 L1078.56 409.95 L1081.57 409.92 L1084.57 409.88 L1087.57 409.84 L1090.57 409.8 L1093.58 409.74 L1096.58 409.68 L1099.58 409.62 L1102.59 409.55 L1105.59 409.47 L1108.59 409.39 L1111.6 409.29 L1114.6 409.2 L1117.6 409.09 L1120.61 408.98 L1123.61 408.86 L1126.61 408.74 L1129.62 408.6 L1132.62 408.46 L1135.62 408.32 L1138.63 408.16 L1141.63 408 L1144.63 407.83 L1147.64 407.65 L1150.64 407.47 L1153.64 407.28 L1156.65 407.08 L1159.65 406.87 L1162.65 406.66 L1165.66 406.43 L1168.66 406.2 L1171.66 405.97 L1174.67 405.72 L1177.67 405.47 L1180.67 405.2 L1183.68 404.93 L1186.68 404.66 L1189.68 404.37 L1192.69 404.08 L1195.69 403.78 L1198.69 403.47 L1201.7 403.15 L1204.7 402.83 L1207.7 402.5 L1210.71 402.16 L1213.71 401.81 L1216.71 401.46 L1219.71 401.1 L1222.72 400.73 L1225.72 400.36 L1228.72 399.98 L1231.73 399.59 L1234.73 399.2 L1237.73 398.79 L1240.74 398.38 L1243.74 397.97 L1246.74 397.55 L1249.75 397.12 L1252.75 396.68 L1255.75 396.24 L1258.76 395.79 L1261.76 395.34 L1264.76 394.88 L1267.77 394.41 L1270.77 393.94 L1273.77 393.46 L1276.78 392.97 L1279.78 392.48 L1282.78 391.98 L1285.79 391.48 L1288.79 390.97 L1291.79 390.46 L1294.8 389.94 L1297.8 389.41 L1300.8 388.88 L1303.81 388.34 L1306.81 387.8 L1309.81 387.25 L1312.82 386.7 L1315.82 386.14 L1318.82 385.58 L1321.83 385.01 L1324.83 384.43 L1327.83 383.85 L1330.84 383.27 L1333.84 382.68 L1336.84 382.09 L1339.85 381.49 L1342.85 380.88 L1345.85 380.28 L1348.86 379.66 L1351.86 379.04 L1354.86 378.42 L1357.86 377.79 L1360.87 377.16 L1363.87 376.52 L1366.87 375.88 L1369.88 375.24 L1372.88 374.59 L1375.88 373.93 L1378.89 373.27 L1381.89 372.61 L1384.89 371.94 L1387.9 371.27 L1390.9 370.59 L1393.9 369.91 L1396.91 369.23 L1399.91 368.54 L1402.91 367.85 L1405.92 367.15 L1408.92 366.45 L1411.92 365.75 L1414.93 365.04 L1417.93 364.32 L1420.93 363.61 L1423.94 362.89 L1426.94 362.16 L1429.94 361.44 L1432.95 360.7 L1435.95 359.97 L1438.95 359.23 L1441.96 358.49 L1444.96 357.74 L1447.96 356.99 L1450.97 356.24 L1453.97 355.49 L1456.97 354.73 L1459.98 353.96 L1462.98 353.2 L1465.98 352.43 L1468.99 351.65 L1471.99 350.88 L1474.99 350.1 L1478 349.32 L1481 348.53 L1484 347.74 L1487 346.95 L1490.01 346.16 L1493.01 345.36 L1496.01 344.56 L1499.02 343.76 L1502.02 342.95 L1505.02 342.15 L1508.03 341.33 L1511.03 340.52 L1514.03 339.7 L1517.04 338.88 L1520.04 338.06 L1523.04 337.24 L1526.05 336.41 L1529.05 335.58 L1532.05 334.75 L1535.06 333.92 L1538.06 333.08 L1541.06 332.24 L1544.07 331.4 L1547.07 330.56 L1550.07 329.72 L1553.08 328.87 L1556.08 328.02 L1559.08 327.17 L1562.09 326.31 L1565.09 325.46 L1568.09 324.6 L1571.1 323.74 L1574.1 322.88 L1577.1 322.02 L1580.11 321.15 L1583.11 320.29 L1586.11 319.42 L1589.12 318.55 L1592.12 317.68 L1595.12 316.8 L1598.13 315.93 L1601.13 315.05 L1604.13 314.17 L1607.14 313.3 L1610.14 312.42 L1613.14 311.53 L1616.14 310.65 L1619.15 309.77 L1622.15 308.88 L1625.15 307.99 L1628.16 307.1 L1631.16 306.22 L1634.16 305.32 L1637.17 304.43 L1640.17 303.54 L1643.17 302.65 L1646.18 301.75 L1649.18 300.86 L1652.18 299.96 L1655.19 299.06 L1658.19 298.17 L1661.19 297.27 L1664.2 296.37 L1667.2 295.47 L1670.2 294.57 L1673.21 293.67 L1676.21 292.77 L1679.21 291.86 L1682.22 290.96 L1685.22 290.06 L1688.22 289.15 L1691.23 288.25 L1694.23 287.35 L1697.23 286.44 L1700.24 285.54 L1703.24 284.63 L1706.24 283.73 L1709.25 282.82 L1712.25 281.92 L1715.25 281.01 L1718.26 280.11 L1721.26 279.2 L1724.26 278.3 L1727.27 277.39 L1730.27 276.49 L1733.27 275.58 L1736.28 274.68 L1739.28 273.77 L1742.28 272.87 L1745.29 271.96 L1748.29 271.06 L1751.29 270.16 L1754.29 269.26 L1757.3 268.35 L1760.3 267.45 L1763.3 266.55 L1766.31 265.65 L1769.31 264.75 L1772.31 263.85 L1775.32 262.96 L1778.32 262.06 L1781.32 261.16 L1784.33 260.27 L1787.33 259.37 L1790.33 258.48 L1793.34 257.58 L1796.34 256.69 L1799.34 255.8 L1802.35 254.91 L1805.35 254.02 L1808.35 253.13 L1811.36 252.25 L1814.36 251.36 L1817.36 250.48 L1820.37 249.6 L1823.37 248.72 L1826.37 247.84 L1829.38 246.96 L1832.38 246.08 L1835.38 245.2 L1838.39 244.33 L1841.39 243.46 L1844.39 242.59 L1847.4 241.72 L1850.4 240.85 L1853.4 239.99 L1856.41 239.12 L1859.41 238.26 L1862.41 237.4 L1865.42 236.54 L1868.42 235.68 L1871.42 234.83 L1874.43 233.98 L1877.43 233.13 L1880.43 232.28 L1883.43 231.43 L1886.44 230.59 L1889.44 229.75 L1892.44 228.91 L1895.45 228.07 L1898.45 227.23 L1901.45 226.4 L1904.46 225.57 L1907.46 224.74 L1910.46 223.92 L1913.47 223.1 L1916.47 222.28 L1919.47 221.46 L1922.48 220.64 L1925.48 219.83 L1928.48 219.02 L1931.49 218.21 L1934.49 217.41 L1937.49 216.61 L1940.5 215.81 L1943.5 215.01"/>
</g>
<circle cx="1177.87" cy="405.45" r="2.25" fill="#DD2448"/>
<line x1="1020.9" y1="607.05" x2="1944" y2="607.05" stroke="#303030" stroke-width="1.5" stroke-linecap="round"/>
<line x1="1020.9" y1="2" x2="1020.9" y2="607.05" stroke="#1c1c1c" stroke-width="1.7" stroke-linecap="butt"/>
<line x1="1018.05" y1="21.5" x2="1020.9" y2="21.5" stroke="#1a1a1a" stroke-width="1.2"/>
<text class="tk" x="1016.2" y="24.35" text-anchor="end">0.4</text>
<line x1="1018.05" y1="213.5" x2="1020.9" y2="213.5" stroke="#1a1a1a" stroke-width="1.2"/>
<text class="tk" x="1016.2" y="216.35" text-anchor="end">0.2</text>
<line x1="1018.05" y1="405.45" x2="1020.9" y2="405.45" stroke="#1a1a1a" stroke-width="1.2"/>
<text class="tk" x="1016.2" y="408.3" text-anchor="end">0.0</text>
<line x1="1018.05" y1="597.4" x2="1020.9" y2="597.4" stroke="#1a1a1a" stroke-width="1.2"/>
<text class="tk" x="1016.2" y="600.25" text-anchor="end">−0.2</text>
<line x1="1126.4" y1="607.05" x2="1126.4" y2="609.9" stroke="#1a1a1a" stroke-width="1.2"/>
<text class="tk" x="1126.4" y="617.65" text-anchor="middle">2</text>
<line x1="1381.75" y1="607.05" x2="1381.75" y2="609.9" stroke="#1a1a1a" stroke-width="1.2"/>
<text class="tk" x="1381.75" y="617.65" text-anchor="middle">4</text>
<line x1="1637.25" y1="607.05" x2="1637.25" y2="609.9" stroke="#1a1a1a" stroke-width="1.2"/>
<text class="tk" x="1637.25" y="617.65" text-anchor="middle">6</text>
<line x1="1892.75" y1="607.05" x2="1892.75" y2="609.9" stroke="#1a1a1a" stroke-width="1.2"/>
<text class="tk" x="1892.75" y="617.65" text-anchor="middle">8</text>
<line x1="1114" y1="167.55" x2="1188" y2="167.55" stroke="#E4465F" stroke-width="1.2"/>
<line x1="1114" y1="199.8" x2="1188" y2="199.8" stroke="#262626" stroke-width="1.7" stroke-dasharray="3.95 3.77"/>
<text class="big" x="1206" y="173.75">Estimation</text>
<text class="big" x="1206" y="211.25">95% CI</text>
<text class="big pt" x="1482.9" y="173.75">P−overall = 0.203</text>
<text class="big pt" x="1482.9" y="211.25">P−non−linear = 0.730</text>
<text class="ttl ylab" style="font-size:22.45px" id="ylab1" transform="translate(994.9 326.4) rotate(-90)" text-anchor="middle">continue y where the refvalue for NLR is 2.404</text>
<text class="ttl" id="xlab1" x="1460.1" y="638.3" text-anchor="middle">NLR</text>
</g>
<g id="panel-PLR">
<clipPath id="clip2"><rect x="44.7" y="649.5" width="923.8" height="608.4"/></clipPath>
<line class="zero" x1="44.7" y1="1063.4" x2="968.5" y2="1063.4"/>
<g clip-path="url(#clip2)">
<path class="ci" d="M45 738.5 L48.01 743.18 L51.01 747.83 L54.02 752.45 L57.03 757.05 L60.04 761.62 L63.04 766.17 L66.05 770.69 L69.06 775.19 L72.07 779.65 L75.07 784.1 L78.08 788.52 L81.09 792.91 L84.1 797.28 L87.1 801.62 L90.11 805.94 L93.12 810.23 L96.12 814.5 L99.13 818.74 L102.14 822.96 L105.15 827.15 L108.15 831.32 L111.16 835.47 L114.17 839.59 L117.18 843.68 L120.18 847.76 L123.19 851.8 L126.2 855.83 L129.21 859.83 L132.21 863.81 L135.22 867.76 L138.23 871.69 L141.23 875.6 L144.24 879.48 L147.25 883.34 L150.26 887.18 L153.26 890.99 L156.27 894.78 L159.28 898.55 L162.29 902.3 L165.29 906.02 L168.3 909.72 L171.31 913.4 L174.32 917.05 L177.32 920.69 L180.33 924.3 L183.34 927.89 L186.34 931.45 L189.35 935 L192.36 938.52 L195.37 942.02 L198.37 945.5 L201.38 948.96 L204.39 952.4 L207.4 955.81 L210.4 959.21 L213.41 962.58 L216.42 965.93 L219.43 969.26 L222.43 972.57 L225.44 975.86 L228.45 979.13 L231.45 982.38 L234.46 985.61 L237.47 988.81 L240.48 992 L243.48 995.17 L246.49 998.31 L249.5 1001.44 L252.51 1004.55 L255.51 1007.63 L258.52 1010.69 L261.53 1013.73 L264.54 1016.75 L267.54 1019.73 L270.55 1022.69 L273.56 1025.62 L276.56 1028.52 L279.57 1031.38 L282.58 1034.21 L285.59 1037.01 L288.59 1039.77 L291.6 1042.49 L294.61 1045.17 L297.62 1047.81 L300.62 1050.41 L303.63 1052.96 L306.64 1055.47 L309.64 1057.93 L312.65 1060.35 L315.66 1062.71 L318.67 1065.02 L321.67 1067.28 L324.68 1069.49 L327.69 1071.65 L330.7 1073.76 L333.7 1075.82 L336.71 1077.83 L339.72 1079.78 L342.73 1081.69 L345.73 1083.54 L348.74 1085.35 L351.75 1087.1 L354.75 1088.81 L357.76 1090.46 L360.77 1092.06 L363.78 1093.62 L366.78 1095.12 L369.79 1096.58 L372.8 1097.99 L375.81 1099.34 L378.81 1100.65 L381.82 1101.91 L384.83 1103.12 L387.84 1104.29 L390.84 1105.41 L393.85 1106.49 L396.86 1107.52 L399.86 1108.51 L402.87 1109.46 L405.88 1110.36 L408.89 1111.23 L411.89 1112.06 L414.9 1112.84 L417.91 1113.6 L420.92 1114.31 L423.92 1114.99 L426.93 1115.63 L429.94 1116.24 L432.95 1116.82 L435.95 1117.36 L438.96 1117.87 L441.97 1118.35 L444.97 1118.81 L447.98 1119.23 L450.99 1119.62 L454 1119.99 L457 1120.33 L460.01 1120.65 L463.02 1120.94 L466.03 1121.21 L469.03 1121.46 L472.04 1121.68 L475.05 1121.88 L478.06 1122.07 L481.06 1122.23 L484.07 1122.38 L487.08 1122.5 L490.08 1122.62 L493.09 1122.71 L496.1 1122.79 L499.11 1122.86 L502.11 1122.91 L505.12 1122.96 L508.13 1122.99 L511.14 1123.01 L514.14 1123.02 L517.15 1123.02 L520.16 1123.01 L523.17 1123 L526.17 1122.98 L529.18 1122.95 L532.19 1122.93 L535.19 1122.89 L538.2 1122.86 L541.21 1122.82 L544.22 1122.78 L547.22 1122.74 L550.23 1122.7 L553.24 1122.66 L556.25 1122.61 L559.25 1122.57 L562.26 1122.52 L565.27 1122.47 L568.28 1122.42 L571.28 1122.37 L574.29 1122.32 L577.3 1122.27 L580.3 1122.21 L583.31 1122.16 L586.32 1122.11 L589.33 1122.06 L592.33 1122 L595.34 1121.95 L598.35 1121.9 L601.36 1121.85 L604.36 1121.8 L607.37 1121.74 L610.38 1121.69 L613.39 1121.65 L616.39 1121.6 L619.4 1121.55 L622.41 1121.5 L625.41 1121.46 L628.42 1121.41 L631.43 1121.37 L634.44 1121.33 L637.44 1121.29 L640.45 1121.26 L643.46 1121.22 L646.47 1121.19 L649.47 1121.16 L652.48 1121.13 L655.49 1121.11 L658.5 1121.08 L661.5 1121.06 L664.51 1121.05 L667.52 1121.03 L670.52 1121.02 L673.53 1121.01 L676.54 1121.01 L679.55 1121.01 L682.55 1121.01 L685.56 1121.02 L688.57 1121.03 L691.58 1121.04 L694.58 1121.06 L697.59 1121.08 L700.6 1121.11 L703.61 1121.14 L706.61 1121.17 L709.62 1121.21 L712.63 1121.25 L715.63 1121.3 L718.64 1121.36 L721.65 1121.42 L724.66 1121.48 L727.66 1121.55 L730.67 1121.63 L733.68 1121.71 L736.69 1121.79 L739.69 1121.88 L742.7 1121.98 L745.71 1122.09 L748.71 1122.2 L751.72 1122.31 L754.73 1122.44 L757.74 1122.57 L760.74 1122.7 L763.75 1122.84 L766.76 1122.99 L769.77 1123.15 L772.77 1123.31 L775.78 1123.48 L778.79 1123.66 L781.8 1123.85 L784.8 1124.04 L787.81 1124.24 L790.82 1124.45 L793.82 1124.66 L796.83 1124.89 L799.84 1125.12 L802.85 1125.35 L805.85 1125.6 L808.86 1125.85 L811.87 1126.1 L814.88 1126.37 L817.88 1126.63 L820.89 1126.91 L823.9 1127.19 L826.91 1127.47 L829.91 1127.76 L832.92 1128.05 L835.93 1128.35 L838.93 1128.65 L841.94 1128.96 L844.95 1129.27 L847.96 1129.58 L850.96 1129.89 L853.97 1130.21 L856.98 1130.54 L859.99 1130.86 L862.99 1131.19 L866 1131.52 L869.01 1131.85 L872.02 1132.18 L875.02 1132.52 L878.03 1132.85 L881.04 1133.19 L884.04 1133.53 L887.05 1133.87 L890.06 1134.21 L893.07 1134.55 L896.07 1134.89 L899.08 1135.23 L902.09 1135.57 L905.1 1135.9 L908.1 1136.24 L911.11 1136.58 L914.12 1136.91 L917.13 1137.25 L920.13 1137.58 L923.14 1137.91 L926.15 1138.24 L929.15 1138.56 L932.16 1138.89 L935.17 1139.21 L938.18 1139.52 L941.18 1139.84 L944.19 1140.15 L947.2 1140.45 L950.21 1140.76 L953.21 1141.05 L956.22 1141.35 L959.23 1141.64 L962.24 1141.92 L965.24 1142.2 L968.25 1142.48"/>
<path class="ci" d="M45 1256.55 L48.01 1254.22 L51.01 1251.9 L54.02 1249.58 L57.03 1247.28 L60.04 1244.98 L63.04 1242.68 L66.05 1240.4 L69.06 1238.12 L72.07 1235.84 L75.07 1233.58 L78.08 1231.32 L81.09 1229.06 L84.1 1226.81 L87.1 1224.57 L90.11 1222.33 L93.12 1220.1 L96.12 1217.88 L99.13 1215.66 L102.14 1213.44 L105.15 1211.23 L108.15 1209.02 L111.16 1206.82 L114.17 1204.63 L117.18 1202.43 L120.18 1200.24 L123.19 1198.06 L126.2 1195.88 L129.21 1193.7 L132.21 1191.53 L135.22 1189.36 L138.23 1187.19 L141.23 1185.03 L144.24 1182.87 L147.25 1180.71 L150.26 1178.56 L153.26 1176.41 L156.27 1174.26 L159.28 1172.11 L162.29 1169.96 L165.29 1167.82 L168.3 1165.68 L171.31 1163.54 L174.32 1161.4 L177.32 1159.26 L180.33 1157.13 L183.34 1154.99 L186.34 1152.86 L189.35 1150.72 L192.36 1148.59 L195.37 1146.46 L198.37 1144.33 L201.38 1142.19 L204.39 1140.06 L207.4 1137.93 L210.4 1135.8 L213.41 1133.67 L216.42 1131.54 L219.43 1129.41 L222.43 1127.28 L225.44 1125.15 L228.45 1123.03 L231.45 1120.9 L234.46 1118.77 L237.47 1116.65 L240.48 1114.53 L243.48 1112.4 L246.49 1110.28 L249.5 1108.17 L252.51 1106.05 L255.51 1103.93 L258.52 1101.82 L261.53 1099.72 L264.54 1097.62 L267.54 1095.53 L270.55 1093.44 L273.56 1091.37 L276.56 1089.3 L279.57 1087.25 L282.58 1085.21 L285.59 1083.18 L288.59 1081.17 L291.6 1079.18 L294.61 1077.2 L297.62 1075.24 L300.62 1073.3 L303.63 1071.38 L306.64 1069.48 L309.64 1067.61 L312.65 1065.76 L315.66 1063.94 L318.67 1062.14 L321.67 1060.37 L324.68 1058.62 L327.69 1056.9 L330.7 1055.2 L333.7 1053.53 L336.71 1051.88 L339.72 1050.25 L342.73 1048.65 L345.73 1047.06 L348.74 1045.49 L351.75 1043.95 L354.75 1042.42 L357.76 1040.91 L360.77 1039.42 L363.78 1037.95 L366.78 1036.49 L369.79 1035.05 L372.8 1033.62 L375.81 1032.21 L378.81 1030.81 L381.82 1029.43 L384.83 1028.05 L387.84 1026.69 L390.84 1025.34 L393.85 1024 L396.86 1022.67 L399.86 1021.35 L402.87 1020.03 L405.88 1018.73 L408.89 1017.43 L411.89 1016.14 L414.9 1014.85 L417.91 1013.57 L420.92 1012.29 L423.92 1011.01 L426.93 1009.74 L429.94 1008.47 L432.95 1007.21 L435.95 1005.94 L438.96 1004.67 L441.97 1003.41 L444.97 1002.14 L447.98 1000.87 L450.99 999.6 L454 998.32 L457 997.05 L460.01 995.76 L463.02 994.48 L466.03 993.18 L469.03 991.88 L472.04 990.58 L475.05 989.26 L478.06 987.94 L481.06 986.61 L484.07 985.27 L487.08 983.91 L490.08 982.55 L493.09 981.18 L496.1 979.79 L499.11 978.4 L502.11 976.99 L505.12 975.57 L508.13 974.14 L511.14 972.71 L514.14 971.26 L517.15 969.8 L520.16 968.33 L523.17 966.84 L526.17 965.35 L529.18 963.85 L532.19 962.34 L535.19 960.82 L538.2 959.28 L541.21 957.74 L544.22 956.19 L547.22 954.62 L550.23 953.05 L553.24 951.46 L556.25 949.87 L559.25 948.27 L562.26 946.65 L565.27 945.03 L568.28 943.39 L571.28 941.75 L574.29 940.1 L577.3 938.43 L580.3 936.76 L583.31 935.08 L586.32 933.39 L589.33 931.69 L592.33 929.98 L595.34 928.26 L598.35 926.53 L601.36 924.79 L604.36 923.04 L607.37 921.28 L610.38 919.51 L613.39 917.74 L616.39 915.95 L619.4 914.16 L622.41 912.35 L625.41 910.54 L628.42 908.72 L631.43 906.89 L634.44 905.05 L637.44 903.2 L640.45 901.34 L643.46 899.48 L646.47 897.6 L649.47 895.72 L652.48 893.83 L655.49 891.93 L658.5 890.02 L661.5 888.1 L664.51 886.18 L667.52 884.24 L670.52 882.3 L673.53 880.35 L676.54 878.39 L679.55 876.42 L682.55 874.45 L685.56 872.46 L688.57 870.47 L691.58 868.47 L694.58 866.47 L697.59 864.45 L700.6 862.43 L703.61 860.39 L706.61 858.36 L709.62 856.31 L712.63 854.25 L715.63 852.19 L718.64 850.12 L721.65 848.04 L724.66 845.96 L727.66 843.87 L730.67 841.77 L733.68 839.66 L736.69 837.54 L739.69 835.42 L742.7 833.29 L745.71 831.15 L748.71 829.01 L751.72 826.86 L754.73 824.7 L757.74 822.54 L760.74 820.36 L763.75 818.18 L766.76 816 L769.77 813.8 L772.77 811.6 L775.78 809.4 L778.79 807.18 L781.8 804.96 L784.8 802.74 L787.81 800.5 L790.82 798.26 L793.82 796.02 L796.83 793.76 L799.84 791.5 L802.85 789.24 L805.85 786.97 L808.86 784.69 L811.87 782.4 L814.88 780.11 L817.88 777.81 L820.89 775.51 L823.9 773.2 L826.91 770.89 L829.91 768.56 L832.92 766.24 L835.93 763.9 L838.93 761.56 L841.94 759.22 L844.95 756.87 L847.96 754.51 L850.96 752.15 L853.97 749.78 L856.98 747.41 L859.99 745.03 L862.99 742.64 L866 740.25 L869.01 737.86 L872.02 735.46 L875.02 733.05 L878.03 730.64 L881.04 728.22 L884.04 725.8 L887.05 723.38 L890.06 720.94 L893.07 718.51 L896.07 716.06 L899.08 713.62 L902.09 711.16 L905.1 708.71 L908.1 706.25 L911.11 703.78 L914.12 701.31 L917.13 698.83 L920.13 696.35 L923.14 693.87 L926.15 691.38 L929.15 688.88 L932.16 686.38 L935.17 683.88 L938.18 681.37 L941.18 678.86 L944.19 676.34 L947.2 673.82 L950.21 671.3 L953.21 668.77 L956.22 666.23 L959.23 663.7 L962.24 661.15 L965.24 658.61 L968.25 656.06"/>
<path class="est" d="M45 996.48 L48.01 997.47 L51.01 998.45 L54.02 999.44 L57.03 1000.43 L60.04 1001.42 L63.04 1002.41 L66.05 1003.4 L69.06 1004.39 L72.07 1005.38 L75.07 1006.37 L78.08 1007.36 L81.09 1008.34 L84.1 1009.33 L87.1 1010.32 L90.11 1011.3 L93.12 1012.28 L96.12 1013.27 L99.13 1014.24 L102.14 1015.22 L105.15 1016.19 L108.15 1017.16 L111.16 1018.13 L114.17 1019.09 L117.18 1020.05 L120.18 1021.01 L123.19 1021.96 L126.2 1022.91 L129.21 1023.85 L132.21 1024.79 L135.22 1025.72 L138.23 1026.65 L141.23 1027.57 L144.24 1028.48 L147.25 1029.39 L150.26 1030.29 L153.26 1031.19 L156.27 1032.08 L159.28 1032.96 L162.29 1033.84 L165.29 1034.7 L168.3 1035.56 L171.31 1036.41 L174.32 1037.25 L177.32 1038.09 L180.33 1038.91 L183.34 1039.73 L186.34 1040.53 L189.35 1041.33 L192.36 1042.12 L195.37 1042.89 L198.37 1043.66 L201.38 1044.42 L204.39 1045.16 L207.4 1045.9 L210.4 1046.62 L213.41 1047.33 L216.42 1048.03 L219.43 1048.72 L222.43 1049.39 L225.44 1050.05 L228.45 1050.7 L231.45 1051.34 L234.46 1051.96 L237.47 1052.57 L240.48 1053.17 L243.48 1053.75 L246.49 1054.32 L249.5 1054.87 L252.51 1055.41 L255.51 1055.93 L258.52 1056.44 L261.53 1056.93 L264.54 1057.41 L267.54 1057.88 L270.55 1058.33 L273.56 1058.76 L276.56 1059.18 L279.57 1059.59 L282.58 1059.98 L285.59 1060.36 L288.59 1060.72 L291.6 1061.07 L294.61 1061.4 L297.62 1061.72 L300.62 1062.03 L303.63 1062.32 L306.64 1062.59 L309.64 1062.85 L312.65 1063.1 L315.66 1063.33 L318.67 1063.55 L321.67 1063.75 L324.68 1063.94 L327.69 1064.12 L330.7 1064.28 L333.7 1064.43 L336.71 1064.56 L339.72 1064.68 L342.73 1064.78 L345.73 1064.87 L348.74 1064.95 L351.75 1065.01 L354.75 1065.05 L357.76 1065.09 L360.77 1065.11 L363.78 1065.11 L366.78 1065.1 L369.79 1065.08 L372.8 1065.04 L375.81 1064.99 L378.81 1064.93 L381.82 1064.85 L384.83 1064.76 L387.84 1064.65 L390.84 1064.53 L393.85 1064.4 L396.86 1064.25 L399.86 1064.09 L402.87 1063.91 L405.88 1063.73 L408.89 1063.52 L411.89 1063.31 L414.9 1063.08 L417.91 1062.83 L420.92 1062.58 L423.92 1062.3 L426.93 1062.02 L429.94 1061.72 L432.95 1061.41 L435.95 1061.09 L438.96 1060.75 L441.97 1060.4 L444.97 1060.03 L447.98 1059.66 L450.99 1059.27 L454 1058.86 L457 1058.45 L460.01 1058.02 L463.02 1057.58 L466.03 1057.13 L469.03 1056.67 L472.04 1056.19 L475.05 1055.7 L478.06 1055.2 L481.06 1054.69 L484.07 1054.17 L487.08 1053.64 L490.08 1053.09 L493.09 1052.54 L496.1 1051.97 L499.11 1051.39 L502.11 1050.8 L505.12 1050.2 L508.13 1049.59 L511.14 1048.97 L514.14 1048.34 L517.15 1047.7 L520.16 1047.05 L523.17 1046.39 L526.17 1045.71 L529.18 1045.03 L532.19 1044.34 L535.19 1043.64 L538.2 1042.93 L541.21 1042.21 L544.22 1041.48 L547.22 1040.75 L550.23 1040 L553.24 1039.24 L556.25 1038.48 L559.25 1037.7 L562.26 1036.92 L565.27 1036.13 L568.28 1035.33 L571.28 1034.53 L574.29 1033.71 L577.3 1032.89 L580.3 1032.06 L583.31 1031.22 L586.32 1030.37 L589.33 1029.52 L592.33 1028.66 L595.34 1027.79 L598.35 1026.91 L601.36 1026.03 L604.36 1025.14 L607.37 1024.24 L610.38 1023.34 L613.39 1022.43 L616.39 1021.51 L619.4 1020.59 L622.41 1019.66 L625.41 1018.72 L628.42 1017.78 L631.43 1016.83 L634.44 1015.88 L637.44 1014.92 L640.45 1013.95 L643.46 1012.98 L646.47 1012.01 L649.47 1011.02 L652.48 1010.04 L655.49 1009.05 L658.5 1008.05 L661.5 1007.05 L664.51 1006.04 L667.52 1005.03 L670.52 1004.01 L673.53 1002.99 L676.54 1001.97 L679.55 1000.94 L682.55 999.91 L685.56 998.87 L688.57 997.83 L691.58 996.79 L694.58 995.74 L697.59 994.69 L700.6 993.63 L703.61 992.57 L706.61 991.51 L709.62 990.45 L712.63 989.38 L715.63 988.31 L718.64 987.24 L721.65 986.16 L724.66 985.08 L727.66 984 L730.67 982.92 L733.68 981.83 L736.69 980.75 L739.69 979.66 L742.7 978.57 L745.71 977.48 L748.71 976.38 L751.72 975.29 L754.73 974.19 L757.74 973.09 L760.74 971.99 L763.75 970.89 L766.76 969.79 L769.77 968.69 L772.77 967.58 L775.78 966.48 L778.79 965.38 L781.8 964.27 L784.8 963.17 L787.81 962.06 L790.82 960.96 L793.82 959.85 L796.83 958.75 L799.84 957.64 L802.85 956.54 L805.85 955.44 L808.86 954.33 L811.87 953.23 L814.88 952.13 L817.88 951.03 L820.89 949.93 L823.9 948.83 L826.91 947.74 L829.91 946.64 L832.92 945.55 L835.93 944.46 L838.93 943.37 L841.94 942.28 L844.95 941.19 L847.96 940.11 L850.96 939.03 L853.97 937.95 L856.98 936.87 L859.99 935.8 L862.99 934.72 L866 933.65 L869.01 932.59 L872.02 931.52 L875.02 930.46 L878.03 929.41 L881.04 928.35 L884.04 927.3 L887.05 926.26 L890.06 925.21 L893.07 924.18 L896.07 923.14 L899.08 922.11 L902.09 921.08 L905.1 920.06 L908.1 919.04 L911.11 918.03 L914.12 917.02 L917.13 916.01 L920.13 915.01 L923.14 914.02 L926.15 913.03 L929.15 912.04 L932.16 911.06 L935.17 910.09 L938.18 909.12 L941.18 908.16 L944.19 907.2 L947.2 906.25 L950.21 905.3 L953.21 904.36 L956.22 903.43 L959.23 902.5 L962.24 901.58 L965.24 900.66 L968.25 899.76"/>
</g>
<circle cx="316.55" cy="1063.4" r="2.25" fill="#DD2448"/>
<line x1="44.7" y1="1257.9" x2="968.5" y2="1257.9" stroke="#2a2a2a" stroke-width="1.3" stroke-linecap="round"/>
<line x1="44.7" y1="653.5" x2="44.7" y2="1257.9" stroke="#2a2a2a" stroke-width="1.3" stroke-linecap="butt"/>
<line x1="42.05" y1="739.25" x2="44.7" y2="739.25" stroke="#1a1a1a" stroke-width="1.2"/>
<text class="tk" x="39.1" y="742.1" text-anchor="end">0.3</text>
<line x1="42.05" y1="847.3" x2="44.7" y2="847.3" stroke="#1a1a1a" stroke-width="1.2"/>
<text class="tk" x="39.1" y="850.15" text-anchor="end">0.2</text>
<line x1="42.05" y1="955.35" x2="44.7" y2="955.35" stroke="#1a1a1a" stroke-width="1.2"/>
<text class="tk" x="39.1" y="958.2" text-anchor="end">0.1</text>
<line x1="42.05" y1="1063.4" x2="44.7" y2="1063.4" stroke="#1a1a1a" stroke-width="1.2"/>
<text class="tk" x="39.1" y="1066.25" text-anchor="end">0.0</text>
<line x1="42.05" y1="1171.45" x2="44.7" y2="1171.45" stroke="#1a1a1a" stroke-width="1.2"/>
<text class="tk" x="39.1" y="1174.3" text-anchor="end">−0.1</text>
<line x1="228.35" y1="1257.9" x2="228.35" y2="1260.55" stroke="#1a1a1a" stroke-width="1.2"/>
<text class="tk" x="228.35" y="1268.5" text-anchor="middle">100</text>
<line x1="483.2" y1="1257.9" x2="483.2" y2="1260.55" stroke="#1a1a1a" stroke-width="1.2"/>
<text class="tk" x="483.2" y="1268.5" text-anchor="middle">150</text>
<line x1="738.1" y1="1257.9" x2="738.1" y2="1260.55" stroke="#1a1a1a" stroke-width="1.2"/>
<text class="tk" x="738.1" y="1268.5" text-anchor="middle">200</text>
<line x1="137" y1="821.3" x2="211" y2="821.3" stroke="#E4465F" stroke-width="1.2"/>
<line x1="137" y1="854.05" x2="211" y2="854.05" stroke="#262626" stroke-width="1.7" stroke-dasharray="3.95 3.77"/>
<text class="big" x="229.3" y="828.5">Estimation</text>
<text class="big" x="229.3" y="865.25">95% CI</text>
<text class="big pt" x="506.3" y="828.5">P−overall = 0.390</text>
<text class="big pt" x="506.3" y="865.25">P−non−linear = 0.358</text>
<text class="ttl ylab" style="font-size:22.6px" id="ylab2" transform="translate(18.8 977.7) rotate(-90)" text-anchor="middle">continue y where the refvalue for PLR is 117.347</text>
<text class="ttl" id="xlab2" x="484" y="1289" text-anchor="middle">PLR</text>
</g>
<g id="panel-LMR">
<clipPath id="clip3"><rect x="1018.3" y="649" width="925.2" height="608.8"/></clipPath>
<line class="zero" x1="1018.3" y1="1083.5" x2="1943.5" y2="1083.5"/>
<g clip-path="url(#clip3)">
<path class="ci" d="M1019.9 654.07 L1022.91 658.41 L1025.92 662.76 L1028.93 667.12 L1031.93 671.5 L1034.94 675.9 L1037.95 680.31 L1040.96 684.73 L1043.97 689.16 L1046.98 693.61 L1049.98 698.06 L1052.99 702.52 L1056 706.99 L1059.01 711.47 L1062.02 715.96 L1065.03 720.45 L1068.04 724.95 L1071.04 729.45 L1074.05 733.96 L1077.06 738.47 L1080.07 742.98 L1083.08 747.49 L1086.09 752 L1089.09 756.52 L1092.1 761.03 L1095.11 765.54 L1098.12 770.04 L1101.13 774.55 L1104.14 779.05 L1107.15 783.54 L1110.15 788.03 L1113.16 792.51 L1116.17 796.98 L1119.18 801.45 L1122.19 805.91 L1125.2 810.35 L1128.2 814.79 L1131.21 819.21 L1134.22 823.62 L1137.23 828.02 L1140.24 832.41 L1143.25 836.78 L1146.26 841.13 L1149.26 845.47 L1152.27 849.79 L1155.28 854.09 L1158.29 858.38 L1161.3 862.64 L1164.31 866.89 L1167.31 871.11 L1170.32 875.31 L1173.33 879.49 L1176.34 883.65 L1179.35 887.79 L1182.36 891.9 L1185.37 895.99 L1188.37 900.06 L1191.38 904.1 L1194.39 908.12 L1197.4 912.11 L1200.41 916.08 L1203.42 920.02 L1206.43 923.94 L1209.43 927.83 L1212.44 931.69 L1215.45 935.52 L1218.46 939.33 L1221.47 943.11 L1224.48 946.86 L1227.48 950.59 L1230.49 954.28 L1233.5 957.94 L1236.51 961.58 L1239.52 965.18 L1242.53 968.75 L1245.54 972.29 L1248.54 975.8 L1251.55 979.28 L1254.56 982.72 L1257.57 986.14 L1260.58 989.51 L1263.59 992.86 L1266.59 996.17 L1269.6 999.45 L1272.61 1002.69 L1275.62 1005.9 L1278.63 1009.07 L1281.64 1012.2 L1284.65 1015.3 L1287.65 1018.37 L1290.66 1021.39 L1293.67 1024.38 L1296.68 1027.34 L1299.69 1030.26 L1302.7 1033.14 L1305.7 1035.98 L1308.71 1038.79 L1311.72 1041.56 L1314.73 1044.29 L1317.74 1046.98 L1320.75 1049.64 L1323.76 1052.26 L1326.76 1054.84 L1329.77 1057.38 L1332.78 1059.88 L1335.79 1062.35 L1338.8 1064.77 L1341.81 1067.16 L1344.81 1069.5 L1347.82 1071.81 L1350.83 1074.08 L1353.84 1076.31 L1356.85 1078.5 L1359.86 1080.65 L1362.87 1082.75 L1365.87 1084.82 L1368.88 1086.85 L1371.89 1088.83 L1374.9 1090.78 L1377.91 1092.68 L1380.92 1094.55 L1383.92 1096.37 L1386.93 1098.15 L1389.94 1099.89 L1392.95 1101.58 L1395.96 1103.24 L1398.97 1104.85 L1401.98 1106.42 L1404.98 1107.95 L1407.99 1109.44 L1411 1110.89 L1414.01 1112.3 L1417.02 1113.67 L1420.03 1115.01 L1423.03 1116.32 L1426.04 1117.59 L1429.05 1118.83 L1432.06 1120.04 L1435.07 1121.23 L1438.08 1122.38 L1441.09 1123.5 L1444.09 1124.6 L1447.1 1125.68 L1450.11 1126.73 L1453.12 1127.76 L1456.13 1128.77 L1459.14 1129.76 L1462.14 1130.73 L1465.15 1131.68 L1468.16 1132.62 L1471.17 1133.53 L1474.18 1134.44 L1477.19 1135.32 L1480.2 1136.19 L1483.2 1137.05 L1486.21 1137.89 L1489.22 1138.71 L1492.23 1139.53 L1495.24 1140.33 L1498.25 1141.12 L1501.26 1141.89 L1504.26 1142.66 L1507.27 1143.41 L1510.28 1144.15 L1513.29 1144.88 L1516.3 1145.6 L1519.31 1146.32 L1522.31 1147.02 L1525.32 1147.72 L1528.33 1148.4 L1531.34 1149.08 L1534.35 1149.76 L1537.36 1150.42 L1540.37 1151.09 L1543.37 1151.74 L1546.38 1152.39 L1549.39 1153.04 L1552.4 1153.68 L1555.41 1154.32 L1558.42 1154.95 L1561.42 1155.59 L1564.43 1156.22 L1567.44 1156.84 L1570.45 1157.47 L1573.46 1158.1 L1576.47 1158.72 L1579.48 1159.35 L1582.48 1159.98 L1585.49 1160.6 L1588.5 1161.23 L1591.51 1161.87 L1594.52 1162.5 L1597.53 1163.14 L1600.53 1163.78 L1603.54 1164.42 L1606.55 1165.07 L1609.56 1165.73 L1612.57 1166.38 L1615.58 1167.05 L1618.59 1167.72 L1621.59 1168.39 L1624.6 1169.08 L1627.61 1169.76 L1630.62 1170.45 L1633.63 1171.15 L1636.64 1171.84 L1639.64 1172.55 L1642.65 1173.26 L1645.66 1173.97 L1648.67 1174.68 L1651.68 1175.4 L1654.69 1176.13 L1657.7 1176.85 L1660.7 1177.58 L1663.71 1178.32 L1666.72 1179.05 L1669.73 1179.79 L1672.74 1180.54 L1675.75 1181.28 L1678.75 1182.03 L1681.76 1182.78 L1684.77 1183.53 L1687.78 1184.28 L1690.79 1185.04 L1693.8 1185.8 L1696.81 1186.56 L1699.81 1187.32 L1702.82 1188.08 L1705.83 1188.84 L1708.84 1189.61 L1711.85 1190.37 L1714.86 1191.14 L1717.86 1191.9 L1720.87 1192.67 L1723.88 1193.44 L1726.89 1194.21 L1729.9 1194.98 L1732.91 1195.75 L1735.92 1196.53 L1738.92 1197.3 L1741.93 1198.08 L1744.94 1198.85 L1747.95 1199.63 L1750.96 1200.41 L1753.97 1201.19 L1756.97 1201.98 L1759.98 1202.76 L1762.99 1203.55 L1766 1204.33 L1769.01 1205.12 L1772.02 1205.91 L1775.03 1206.71 L1778.03 1207.5 L1781.04 1208.3 L1784.05 1209.09 L1787.06 1209.9 L1790.07 1210.7 L1793.08 1211.5 L1796.09 1212.31 L1799.09 1213.12 L1802.1 1213.93 L1805.11 1214.74 L1808.12 1215.56 L1811.13 1216.38 L1814.14 1217.2 L1817.14 1218.02 L1820.15 1218.85 L1823.16 1219.67 L1826.17 1220.51 L1829.18 1221.34 L1832.19 1222.18 L1835.2 1223.01 L1838.2 1223.86 L1841.21 1224.7 L1844.22 1225.55 L1847.23 1226.4 L1850.24 1227.25 L1853.25 1228.11 L1856.25 1228.97 L1859.26 1229.83 L1862.27 1230.7 L1865.28 1231.57 L1868.29 1232.44 L1871.3 1233.32 L1874.31 1234.2 L1877.31 1235.08 L1880.32 1235.97 L1883.33 1236.86 L1886.34 1237.75 L1889.35 1238.65 L1892.36 1239.55 L1895.36 1240.46 L1898.37 1241.37 L1901.38 1242.28 L1904.39 1243.2 L1907.4 1244.12 L1910.41 1245.04 L1913.42 1245.97 L1916.42 1246.91 L1919.43 1247.84 L1922.44 1248.79 L1925.45 1249.73 L1928.46 1250.68 L1931.47 1251.64 L1934.47 1252.59 L1937.48 1253.56 L1940.49 1254.53 L1943.5 1255.5"/>
<path class="ci" d="M1019 1212.09 L1022 1210.86 L1025 1209.62 L1028 1208.38 L1031.01 1207.13 L1034.01 1205.87 L1037.01 1204.6 L1040.01 1203.33 L1043.01 1202.05 L1046.01 1200.77 L1049.02 1199.49 L1052.02 1198.19 L1055.02 1196.9 L1058.02 1195.6 L1061.02 1194.3 L1064.02 1192.99 L1067.03 1191.68 L1070.03 1190.37 L1073.03 1189.06 L1076.03 1187.75 L1079.03 1186.44 L1082.03 1185.12 L1085.04 1183.81 L1088.04 1182.49 L1091.04 1181.18 L1094.04 1179.86 L1097.04 1178.55 L1100.04 1177.24 L1103.05 1175.93 L1106.05 1174.63 L1109.05 1173.33 L1112.05 1172.03 L1115.05 1170.73 L1118.05 1169.44 L1121.06 1168.15 L1124.06 1166.87 L1127.06 1165.59 L1130.06 1164.32 L1133.06 1163.05 L1136.06 1161.79 L1139.06 1160.54 L1142.07 1159.29 L1145.07 1158.05 L1148.07 1156.82 L1151.07 1155.6 L1154.07 1154.39 L1157.07 1153.18 L1160.08 1151.99 L1163.08 1150.8 L1166.08 1149.63 L1169.08 1148.46 L1172.08 1147.31 L1175.08 1146.16 L1178.09 1145.03 L1181.09 1143.91 L1184.09 1142.8 L1187.09 1141.7 L1190.09 1140.61 L1193.09 1139.53 L1196.1 1138.46 L1199.1 1137.4 L1202.1 1136.35 L1205.1 1135.3 L1208.1 1134.26 L1211.1 1133.23 L1214.11 1132.2 L1217.11 1131.18 L1220.11 1130.17 L1223.11 1129.16 L1226.11 1128.15 L1229.11 1127.15 L1232.12 1126.16 L1235.12 1125.16 L1238.12 1124.17 L1241.12 1123.19 L1244.12 1122.2 L1247.12 1121.22 L1250.12 1120.24 L1253.13 1119.26 L1256.13 1118.29 L1259.13 1117.31 L1262.13 1116.33 L1265.13 1115.35 L1268.13 1114.37 L1271.14 1113.39 L1274.14 1112.41 L1277.14 1111.42 L1280.14 1110.44 L1283.14 1109.45 L1286.14 1108.46 L1289.15 1107.47 L1292.15 1106.48 L1295.15 1105.49 L1298.15 1104.5 L1301.15 1103.51 L1304.15 1102.52 L1307.16 1101.53 L1310.16 1100.55 L1313.16 1099.56 L1316.16 1098.58 L1319.16 1097.6 L1322.16 1096.62 L1325.17 1095.64 L1328.17 1094.67 L1331.17 1093.7 L1334.17 1092.73 L1337.17 1091.77 L1340.17 1090.82 L1343.18 1089.86 L1346.18 1088.92 L1349.18 1087.97 L1352.18 1087.04 L1355.18 1086.11 L1358.18 1085.18 L1361.19 1084.27 L1364.19 1083.36 L1367.19 1082.45 L1370.19 1081.56 L1373.19 1080.67 L1376.19 1079.79 L1379.19 1078.92 L1382.2 1078.05 L1385.2 1077.2 L1388.2 1076.36 L1391.2 1075.52 L1394.2 1074.7 L1397.2 1073.88 L1400.21 1073.08 L1403.21 1072.28 L1406.21 1071.5 L1409.21 1070.72 L1412.21 1069.94 L1415.21 1069.17 L1418.22 1068.39 L1421.22 1067.62 L1424.22 1066.84 L1427.22 1066.06 L1430.22 1065.26 L1433.22 1064.46 L1436.23 1063.65 L1439.23 1062.83 L1442.23 1061.99 L1445.23 1061.13 L1448.23 1060.25 L1451.23 1059.35 L1454.24 1058.43 L1457.24 1057.49 L1460.24 1056.52 L1463.24 1055.52 L1466.24 1054.49 L1469.24 1053.43 L1472.25 1052.35 L1475.25 1051.24 L1478.25 1050.1 L1481.25 1048.94 L1484.25 1047.76 L1487.25 1046.56 L1490.25 1045.33 L1493.26 1044.08 L1496.26 1042.82 L1499.26 1041.53 L1502.26 1040.22 L1505.26 1038.9 L1508.26 1037.57 L1511.27 1036.21 L1514.27 1034.84 L1517.27 1033.46 L1520.27 1032.06 L1523.27 1030.66 L1526.27 1029.24 L1529.28 1027.81 L1532.28 1026.37 L1535.28 1024.92 L1538.28 1023.47 L1541.28 1022 L1544.28 1020.54 L1547.29 1019.06 L1550.29 1017.58 L1553.29 1016.1 L1556.29 1014.62 L1559.29 1013.13 L1562.29 1011.64 L1565.3 1010.15 L1568.3 1008.66 L1571.3 1007.17 L1574.3 1005.67 L1577.3 1004.17 L1580.3 1002.66 L1583.31 1001.14 L1586.31 999.62 L1589.31 998.08 L1592.31 996.54 L1595.31 994.98 L1598.31 993.42 L1601.31 991.83 L1604.32 990.24 L1607.32 988.63 L1610.32 987 L1613.32 985.35 L1616.32 983.69 L1619.32 982.01 L1622.33 980.31 L1625.33 978.59 L1628.33 976.86 L1631.33 975.11 L1634.33 973.35 L1637.33 971.57 L1640.34 969.78 L1643.34 967.97 L1646.34 966.14 L1649.34 964.31 L1652.34 962.45 L1655.34 960.59 L1658.35 958.71 L1661.35 956.82 L1664.35 954.92 L1667.35 953 L1670.35 951.07 L1673.35 949.13 L1676.36 947.18 L1679.36 945.22 L1682.36 943.25 L1685.36 941.27 L1688.36 939.27 L1691.36 937.27 L1694.37 935.26 L1697.37 933.24 L1700.37 931.21 L1703.37 929.18 L1706.37 927.13 L1709.37 925.08 L1712.38 923.02 L1715.38 920.95 L1718.38 918.88 L1721.38 916.79 L1724.38 914.7 L1727.38 912.61 L1730.38 910.5 L1733.39 908.39 L1736.39 906.27 L1739.39 904.14 L1742.39 902.01 L1745.39 899.87 L1748.39 897.72 L1751.4 895.56 L1754.4 893.39 L1757.4 891.22 L1760.4 889.03 L1763.4 886.84 L1766.4 884.64 L1769.41 882.43 L1772.41 880.22 L1775.41 877.99 L1778.41 875.76 L1781.41 873.52 L1784.41 871.27 L1787.42 869.01 L1790.42 866.74 L1793.42 864.46 L1796.42 862.18 L1799.42 859.88 L1802.42 857.58 L1805.43 855.26 L1808.43 852.94 L1811.43 850.61 L1814.43 848.27 L1817.43 845.92 L1820.43 843.56 L1823.44 841.19 L1826.44 838.81 L1829.44 836.42 L1832.44 834.02 L1835.44 831.61 L1838.44 829.2 L1841.44 826.77 L1844.45 824.33 L1847.45 821.88 L1850.45 819.42 L1853.45 816.96 L1856.45 814.48 L1859.45 811.99 L1862.46 809.49 L1865.46 806.98 L1868.46 804.46 L1871.46 801.93 L1874.46 799.39 L1877.46 796.84 L1880.47 794.28 L1883.47 791.7 L1886.47 789.12 L1889.47 786.52 L1892.47 783.92 L1895.47 781.3 L1898.48 778.67 L1901.48 776.03 L1904.48 773.38 L1907.48 770.72 L1910.48 768.05 L1913.48 765.36 L1916.49 762.67 L1919.49 759.96 L1922.49 757.24 L1925.49 754.51 L1928.49 751.76 L1931.49 749.01 L1934.5 746.24 L1937.5 743.46 L1940.5 740.67 L1943.5 737.87"/>
<path class="est" d="M1019 933.18 L1022 934.76 L1025 936.33 L1028 937.91 L1031 939.48 L1034 941.05 L1037 942.62 L1040 944.18 L1043 945.75 L1046 947.31 L1049 948.88 L1052 950.44 L1055 952 L1058 953.56 L1061 955.11 L1064 956.67 L1067 958.22 L1070 959.77 L1073 961.32 L1076 962.87 L1079 964.41 L1082 965.95 L1085 967.49 L1088 969.03 L1091 970.56 L1094 972.1 L1097 973.63 L1100 975.15 L1103 976.68 L1106 978.2 L1109 979.72 L1112 981.23 L1115 982.75 L1118 984.26 L1121 985.76 L1124 987.27 L1127 988.77 L1130 990.26 L1133 991.76 L1136 993.25 L1139 994.74 L1142 996.22 L1145 997.7 L1148 999.18 L1151 1000.65 L1154 1002.12 L1157 1003.58 L1160 1005.04 L1163 1006.5 L1166 1007.95 L1169 1009.4 L1172 1010.84 L1175 1012.28 L1178 1013.72 L1181 1015.15 L1184 1016.58 L1187 1018 L1190 1019.42 L1193 1020.83 L1196 1022.23 L1199 1023.63 L1202 1025.02 L1205 1026.4 L1208 1027.78 L1211 1029.15 L1214 1030.52 L1217 1031.87 L1220 1033.22 L1223 1034.56 L1226 1035.89 L1229 1037.21 L1232 1038.52 L1235 1039.83 L1238 1041.12 L1241 1042.4 L1244 1043.68 L1247 1044.94 L1250 1046.19 L1253 1047.43 L1256 1048.67 L1259 1049.88 L1262 1051.09 L1265 1052.29 L1268 1053.47 L1271 1054.64 L1274 1055.8 L1277 1056.95 L1280 1058.08 L1283 1059.2 L1286 1060.3 L1289 1061.39 L1292 1062.47 L1295 1063.53 L1298 1064.58 L1301 1065.61 L1304 1066.63 L1307 1067.63 L1310 1068.62 L1313 1069.59 L1316 1070.55 L1319 1071.49 L1322 1072.41 L1325 1073.32 L1328 1074.21 L1331 1075.08 L1334 1075.93 L1337 1076.77 L1340 1077.59 L1343 1078.39 L1346 1079.17 L1349 1079.94 L1352 1080.68 L1355 1081.41 L1358 1082.12 L1361 1082.81 L1364 1083.48 L1367 1084.12 L1370 1084.75 L1373 1085.36 L1376 1085.95 L1379 1086.51 L1382 1087.06 L1385 1087.58 L1388 1088.08 L1391 1088.56 L1394 1089.02 L1397 1089.46 L1400 1089.87 L1403 1090.26 L1406 1090.63 L1409 1090.98 L1412 1091.31 L1415 1091.61 L1418 1091.89 L1421 1092.15 L1424 1092.39 L1427 1092.61 L1430 1092.81 L1433 1092.99 L1436 1093.14 L1439 1093.28 L1442 1093.4 L1445 1093.5 L1448 1093.58 L1451 1093.64 L1454 1093.68 L1457 1093.7 L1460 1093.71 L1463 1093.7 L1466 1093.67 L1469 1093.62 L1472 1093.55 L1475 1093.47 L1478 1093.37 L1481 1093.25 L1484 1093.12 L1487 1092.97 L1490 1092.81 L1493 1092.63 L1496 1092.44 L1499 1092.23 L1502 1092 L1505 1091.77 L1508 1091.51 L1511 1091.25 L1514 1090.97 L1517 1090.68 L1520 1090.37 L1523 1090.05 L1526 1089.72 L1529 1089.38 L1532 1089.02 L1535 1088.66 L1538 1088.28 L1541 1087.89 L1544 1087.49 L1547 1087.08 L1550 1086.66 L1553 1086.23 L1556 1085.79 L1559 1085.34 L1562 1084.88 L1565 1084.41 L1568 1083.94 L1571 1083.45 L1574 1082.96 L1577 1082.46 L1580 1081.95 L1583 1081.43 L1586 1080.91 L1589 1080.38 L1592 1079.84 L1595 1079.3 L1598 1078.75 L1601 1078.2 L1604 1077.64 L1607 1077.07 L1610 1076.5 L1613 1075.93 L1616 1075.35 L1619 1074.77 L1622 1074.18 L1625 1073.59 L1628 1072.99 L1631 1072.39 L1634 1071.79 L1637 1071.18 L1640 1070.56 L1643 1069.95 L1646 1069.33 L1649 1068.7 L1652 1068.07 L1655 1067.44 L1658 1066.8 L1661 1066.16 L1664 1065.52 L1667 1064.87 L1670 1064.22 L1673 1063.57 L1676 1062.91 L1679 1062.25 L1682 1061.59 L1685 1060.92 L1688 1060.25 L1691 1059.58 L1694 1058.9 L1697 1058.22 L1700 1057.54 L1703 1056.85 L1706 1056.16 L1709 1055.47 L1712 1054.78 L1715 1054.08 L1718 1053.38 L1721 1052.68 L1724 1051.97 L1727 1051.27 L1730 1050.56 L1733 1049.85 L1736 1049.13 L1739 1048.41 L1742 1047.7 L1745 1046.97 L1748 1046.25 L1751 1045.53 L1754 1044.8 L1757 1044.07 L1760 1043.34 L1763 1042.6 L1766 1041.87 L1769 1041.13 L1772 1040.39 L1775 1039.65 L1778 1038.9 L1781 1038.16 L1784 1037.41 L1787 1036.66 L1790 1035.91 L1793 1035.16 L1796 1034.41 L1799 1033.65 L1802 1032.89 L1805 1032.14 L1808 1031.38 L1811 1030.62 L1814 1029.86 L1817 1029.09 L1820 1028.33 L1823 1027.56 L1826 1026.8 L1829 1026.03 L1832 1025.26 L1835 1024.49 L1838 1023.72 L1841 1022.95 L1844 1022.18 L1847 1021.4 L1850 1020.63 L1853 1019.85 L1856 1019.08 L1859 1018.3 L1862 1017.52 L1865 1016.75 L1868 1015.97 L1871 1015.19 L1874 1014.41 L1877 1013.63 L1880 1012.85 L1883 1012.07 L1886 1011.29 L1889 1010.51 L1892 1009.73 L1895 1008.95 L1898 1008.17 L1901 1007.39 L1904 1006.61 L1907 1005.83 L1910 1005.05 L1913 1004.27 L1916 1003.49 L1919 1002.71 L1922 1001.93 L1925 1001.15 L1928 1000.37 L1931 999.59 L1934 998.81 L1937 998.03 L1940 997.25 L1943 996.48"/>
</g>
<circle cx="1363.87" cy="1083.45" r="2.25" fill="#DD2448"/>
<line x1="1018.3" y1="1257.8" x2="1943.5" y2="1257.8" stroke="#303030" stroke-width="1.8" stroke-linecap="round"/>
<line x1="1018.3" y1="653" x2="1018.3" y2="1257.8" stroke="#303030" stroke-width="1.8" stroke-linecap="butt"/>
<line x1="1015.4" y1="673.5" x2="1018.3" y2="673.5" stroke="#1a1a1a" stroke-width="1.2"/>
<text class="tk" x="1013.1" y="676.35" text-anchor="end" style="font-family:'Liberation Serif','Times New Roman',serif;font-size:9px;fill:#3c3c3c">0.4</text>
<line x1="1015.4" y1="878.5" x2="1018.3" y2="878.5" stroke="#1a1a1a" stroke-width="1.2"/>
<text class="tk" x="1013.1" y="881.35" text-anchor="end" style="font-family:'Liberation Serif','Times New Roman',serif;font-size:9px;fill:#3c3c3c">0.2</text>
<line x1="1015.4" y1="1083.5" x2="1018.3" y2="1083.5" stroke="#1a1a1a" stroke-width="1.2"/>
<text class="tk" x="1013.1" y="1086.35" text-anchor="end" style="font-family:'Liberation Serif','Times New Roman',serif;font-size:9px;fill:#3c3c3c">0.0</text>
<line x1="1095.7" y1="1257.8" x2="1095.7" y2="1260.7" stroke="#1a1a1a" stroke-width="1.2"/>
<text class="tk" x="1095.7" y="1268.4" text-anchor="middle" style="font-family:'Liberation Serif','Times New Roman',serif;font-size:9px;fill:#3c3c3c">2</text>
<line x1="1265.17" y1="1257.8" x2="1265.17" y2="1260.7" stroke="#1a1a1a" stroke-width="1.2"/>
<text class="tk" x="1265.17" y="1268.4" text-anchor="middle" style="font-family:'Liberation Serif','Times New Roman',serif;font-size:9px;fill:#3c3c3c">3</text>
<line x1="1434.64" y1="1257.8" x2="1434.64" y2="1260.7" stroke="#1a1a1a" stroke-width="1.2"/>
<text class="tk" x="1434.64" y="1268.4" text-anchor="middle" style="font-family:'Liberation Serif','Times New Roman',serif;font-size:9px;fill:#3c3c3c">4</text>
<line x1="1604.1" y1="1257.8" x2="1604.1" y2="1260.7" stroke="#1a1a1a" stroke-width="1.2"/>
<text class="tk" x="1604.1" y="1268.4" text-anchor="middle" style="font-family:'Liberation Serif','Times New Roman',serif;font-size:9px;fill:#3c3c3c">5</text>
<line x1="1773.6" y1="1257.8" x2="1773.6" y2="1260.7" stroke="#1a1a1a" stroke-width="1.2"/>
<text class="tk" x="1773.6" y="1268.4" text-anchor="middle" style="font-family:'Liberation Serif','Times New Roman',serif;font-size:9px;fill:#3c3c3c">6</text>
<line x1="1943.05" y1="1257.8" x2="1943.05" y2="1260.7" stroke="#1a1a1a" stroke-width="1.2"/>
<text class="tk" x="1943.05" y="1268.4" text-anchor="middle" style="font-family:'Liberation Serif','Times New Roman',serif;font-size:9px;fill:#3c3c3c">7</text>
<line x1="1112" y1="829.4" x2="1186" y2="829.4" stroke="#E4465F" stroke-width="1.2"/>
<line x1="1112" y1="864" x2="1186" y2="864" stroke="#262626" stroke-width="1.7" stroke-dasharray="3.95 3.77"/>
<text class="big" x="1204.5" y="837.25">Estimation</text>
<text class="big" x="1204.5" y="874">95% CI</text>
<text class="big pt" x="1481.9" y="837.25">P−overall = 0.515</text>
<text class="big pt" x="1481.9" y="874">P−non−linear = 0.251</text>
<text class="ttl ylab" style="font-size:22.45px" id="ylab3" transform="translate(994.9 978.6) rotate(-90)" text-anchor="middle">continue y where the refvalue for LMR is 3.583</text>
<text class="ttl" id="xlab3" x="1458.7" y="1288.9" text-anchor="middle">LMR</text>
</g>
</svg>
</body></html>
